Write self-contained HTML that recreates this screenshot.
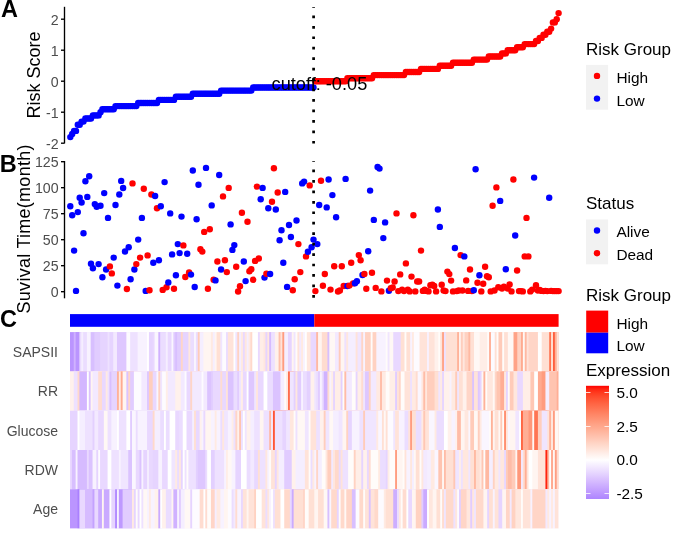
<!DOCTYPE html>
<html lang="en"><head><meta charset="utf-8"><title>Risk score figure</title>
<style>html,body{margin:0;padding:0;background:#fff}body{width:685px;height:543px;overflow:hidden}svg{display:block}</style>
</head><body>
<svg width="685" height="543" viewBox="0 0 685 543" font-family='"Liberation Sans", sans-serif'>
<rect width="685" height="543" fill="#fff"/>
<g id="pA">
<circle cx="70.3" cy="137.1" r="3.2" fill="#0000ff"/>
<circle cx="72.2" cy="134.0" r="3.2" fill="#0000ff"/>
<circle cx="74.1" cy="130.9" r="3.2" fill="#0000ff"/>
<circle cx="76.0" cy="130.9" r="3.2" fill="#0000ff"/>
<circle cx="77.8" cy="124.7" r="3.2" fill="#0000ff"/>
<circle cx="79.7" cy="124.7" r="3.2" fill="#0000ff"/>
<circle cx="81.6" cy="121.6" r="3.2" fill="#0000ff"/>
<circle cx="83.5" cy="121.6" r="3.2" fill="#0000ff"/>
<circle cx="85.4" cy="118.5" r="3.2" fill="#0000ff"/>
<circle cx="87.3" cy="118.5" r="3.2" fill="#0000ff"/>
<circle cx="89.2" cy="118.5" r="3.2" fill="#0000ff"/>
<circle cx="91.0" cy="118.5" r="3.2" fill="#0000ff"/>
<circle cx="92.9" cy="115.4" r="3.2" fill="#0000ff"/>
<circle cx="94.8" cy="115.4" r="3.2" fill="#0000ff"/>
<circle cx="96.7" cy="115.4" r="3.2" fill="#0000ff"/>
<circle cx="98.6" cy="115.4" r="3.2" fill="#0000ff"/>
<circle cx="100.5" cy="112.3" r="3.2" fill="#0000ff"/>
<circle cx="102.4" cy="109.2" r="3.2" fill="#0000ff"/>
<circle cx="104.2" cy="109.2" r="3.2" fill="#0000ff"/>
<circle cx="106.1" cy="109.2" r="3.2" fill="#0000ff"/>
<circle cx="108.0" cy="109.2" r="3.2" fill="#0000ff"/>
<circle cx="109.9" cy="109.2" r="3.2" fill="#0000ff"/>
<circle cx="111.8" cy="109.2" r="3.2" fill="#0000ff"/>
<circle cx="113.7" cy="109.2" r="3.2" fill="#0000ff"/>
<circle cx="115.5" cy="106.1" r="3.2" fill="#0000ff"/>
<circle cx="117.4" cy="106.1" r="3.2" fill="#0000ff"/>
<circle cx="119.3" cy="106.1" r="3.2" fill="#0000ff"/>
<circle cx="121.2" cy="106.1" r="3.2" fill="#0000ff"/>
<circle cx="123.1" cy="106.1" r="3.2" fill="#0000ff"/>
<circle cx="125.0" cy="106.1" r="3.2" fill="#0000ff"/>
<circle cx="126.9" cy="106.1" r="3.2" fill="#0000ff"/>
<circle cx="128.7" cy="106.1" r="3.2" fill="#0000ff"/>
<circle cx="130.6" cy="106.1" r="3.2" fill="#0000ff"/>
<circle cx="132.5" cy="106.1" r="3.2" fill="#0000ff"/>
<circle cx="134.4" cy="106.1" r="3.2" fill="#0000ff"/>
<circle cx="136.3" cy="106.1" r="3.2" fill="#0000ff"/>
<circle cx="138.2" cy="103.0" r="3.2" fill="#0000ff"/>
<circle cx="140.1" cy="103.0" r="3.2" fill="#0000ff"/>
<circle cx="141.9" cy="103.0" r="3.2" fill="#0000ff"/>
<circle cx="143.8" cy="103.0" r="3.2" fill="#0000ff"/>
<circle cx="145.7" cy="103.0" r="3.2" fill="#0000ff"/>
<circle cx="147.6" cy="103.0" r="3.2" fill="#0000ff"/>
<circle cx="149.5" cy="103.0" r="3.2" fill="#0000ff"/>
<circle cx="151.4" cy="103.0" r="3.2" fill="#0000ff"/>
<circle cx="153.3" cy="103.0" r="3.2" fill="#0000ff"/>
<circle cx="155.1" cy="103.0" r="3.2" fill="#0000ff"/>
<circle cx="157.0" cy="103.0" r="3.2" fill="#0000ff"/>
<circle cx="158.9" cy="99.9" r="3.2" fill="#0000ff"/>
<circle cx="160.8" cy="99.9" r="3.2" fill="#0000ff"/>
<circle cx="162.7" cy="99.9" r="3.2" fill="#0000ff"/>
<circle cx="164.6" cy="99.9" r="3.2" fill="#0000ff"/>
<circle cx="166.5" cy="99.9" r="3.2" fill="#0000ff"/>
<circle cx="168.3" cy="99.9" r="3.2" fill="#0000ff"/>
<circle cx="170.2" cy="99.9" r="3.2" fill="#0000ff"/>
<circle cx="172.1" cy="99.9" r="3.2" fill="#0000ff"/>
<circle cx="174.0" cy="99.9" r="3.2" fill="#0000ff"/>
<circle cx="175.9" cy="96.8" r="3.2" fill="#0000ff"/>
<circle cx="177.8" cy="96.8" r="3.2" fill="#0000ff"/>
<circle cx="179.6" cy="96.8" r="3.2" fill="#0000ff"/>
<circle cx="181.5" cy="96.8" r="3.2" fill="#0000ff"/>
<circle cx="183.4" cy="96.8" r="3.2" fill="#0000ff"/>
<circle cx="185.3" cy="96.8" r="3.2" fill="#0000ff"/>
<circle cx="187.2" cy="96.8" r="3.2" fill="#0000ff"/>
<circle cx="189.1" cy="96.8" r="3.2" fill="#0000ff"/>
<circle cx="191.0" cy="96.8" r="3.2" fill="#0000ff"/>
<circle cx="192.8" cy="93.7" r="3.2" fill="#0000ff"/>
<circle cx="194.7" cy="93.7" r="3.2" fill="#0000ff"/>
<circle cx="196.6" cy="93.7" r="3.2" fill="#0000ff"/>
<circle cx="198.5" cy="93.7" r="3.2" fill="#0000ff"/>
<circle cx="200.4" cy="93.7" r="3.2" fill="#0000ff"/>
<circle cx="202.3" cy="93.7" r="3.2" fill="#0000ff"/>
<circle cx="204.2" cy="93.7" r="3.2" fill="#0000ff"/>
<circle cx="206.0" cy="93.7" r="3.2" fill="#0000ff"/>
<circle cx="207.9" cy="93.7" r="3.2" fill="#0000ff"/>
<circle cx="209.8" cy="93.7" r="3.2" fill="#0000ff"/>
<circle cx="211.7" cy="93.7" r="3.2" fill="#0000ff"/>
<circle cx="213.6" cy="93.7" r="3.2" fill="#0000ff"/>
<circle cx="215.5" cy="93.7" r="3.2" fill="#0000ff"/>
<circle cx="217.4" cy="93.7" r="3.2" fill="#0000ff"/>
<circle cx="219.2" cy="93.7" r="3.2" fill="#0000ff"/>
<circle cx="221.1" cy="90.6" r="3.2" fill="#0000ff"/>
<circle cx="223.0" cy="90.6" r="3.2" fill="#0000ff"/>
<circle cx="224.9" cy="90.6" r="3.2" fill="#0000ff"/>
<circle cx="226.8" cy="90.6" r="3.2" fill="#0000ff"/>
<circle cx="228.7" cy="90.6" r="3.2" fill="#0000ff"/>
<circle cx="230.6" cy="90.6" r="3.2" fill="#0000ff"/>
<circle cx="232.4" cy="90.6" r="3.2" fill="#0000ff"/>
<circle cx="234.3" cy="90.6" r="3.2" fill="#0000ff"/>
<circle cx="236.2" cy="90.6" r="3.2" fill="#0000ff"/>
<circle cx="238.1" cy="90.6" r="3.2" fill="#0000ff"/>
<circle cx="240.0" cy="90.6" r="3.2" fill="#0000ff"/>
<circle cx="241.9" cy="90.6" r="3.2" fill="#0000ff"/>
<circle cx="243.8" cy="90.6" r="3.2" fill="#0000ff"/>
<circle cx="245.6" cy="90.6" r="3.2" fill="#0000ff"/>
<circle cx="247.5" cy="90.6" r="3.2" fill="#0000ff"/>
<circle cx="249.4" cy="90.6" r="3.2" fill="#0000ff"/>
<circle cx="251.3" cy="90.6" r="3.2" fill="#0000ff"/>
<circle cx="253.2" cy="87.5" r="3.2" fill="#0000ff"/>
<circle cx="255.1" cy="87.5" r="3.2" fill="#0000ff"/>
<circle cx="256.9" cy="87.5" r="3.2" fill="#0000ff"/>
<circle cx="258.8" cy="87.5" r="3.2" fill="#0000ff"/>
<circle cx="260.7" cy="87.5" r="3.2" fill="#0000ff"/>
<circle cx="262.6" cy="87.5" r="3.2" fill="#0000ff"/>
<circle cx="264.5" cy="87.5" r="3.2" fill="#0000ff"/>
<circle cx="266.4" cy="87.5" r="3.2" fill="#0000ff"/>
<circle cx="268.3" cy="87.5" r="3.2" fill="#0000ff"/>
<circle cx="270.1" cy="87.5" r="3.2" fill="#0000ff"/>
<circle cx="272.0" cy="87.5" r="3.2" fill="#0000ff"/>
<circle cx="273.9" cy="87.5" r="3.2" fill="#0000ff"/>
<circle cx="275.8" cy="87.5" r="3.2" fill="#0000ff"/>
<circle cx="277.7" cy="87.5" r="3.2" fill="#0000ff"/>
<circle cx="279.6" cy="87.5" r="3.2" fill="#0000ff"/>
<circle cx="281.5" cy="87.5" r="3.2" fill="#0000ff"/>
<circle cx="283.3" cy="87.5" r="3.2" fill="#0000ff"/>
<circle cx="285.2" cy="87.5" r="3.2" fill="#0000ff"/>
<circle cx="287.1" cy="87.5" r="3.2" fill="#0000ff"/>
<circle cx="289.0" cy="87.5" r="3.2" fill="#0000ff"/>
<circle cx="290.9" cy="87.5" r="3.2" fill="#0000ff"/>
<circle cx="292.8" cy="87.5" r="3.2" fill="#0000ff"/>
<circle cx="294.7" cy="87.5" r="3.2" fill="#0000ff"/>
<circle cx="296.5" cy="87.5" r="3.2" fill="#0000ff"/>
<circle cx="298.4" cy="87.5" r="3.2" fill="#0000ff"/>
<circle cx="300.3" cy="87.5" r="3.2" fill="#0000ff"/>
<circle cx="302.2" cy="87.5" r="3.2" fill="#0000ff"/>
<circle cx="304.1" cy="87.5" r="3.2" fill="#0000ff"/>
<circle cx="306.0" cy="87.5" r="3.2" fill="#0000ff"/>
<circle cx="307.9" cy="87.5" r="3.2" fill="#0000ff"/>
<circle cx="309.7" cy="87.5" r="3.2" fill="#0000ff"/>
<circle cx="311.6" cy="87.5" r="3.2" fill="#0000ff"/>
<circle cx="313.5" cy="87.5" r="3.2" fill="#0000ff"/>
<circle cx="315.4" cy="81.3" r="3.2" fill="#ff0000"/>
<circle cx="317.3" cy="81.3" r="3.2" fill="#ff0000"/>
<circle cx="319.2" cy="81.3" r="3.2" fill="#ff0000"/>
<circle cx="321.0" cy="81.3" r="3.2" fill="#ff0000"/>
<circle cx="322.9" cy="81.3" r="3.2" fill="#ff0000"/>
<circle cx="324.8" cy="81.3" r="3.2" fill="#ff0000"/>
<circle cx="326.7" cy="81.3" r="3.2" fill="#ff0000"/>
<circle cx="328.6" cy="81.3" r="3.2" fill="#ff0000"/>
<circle cx="330.5" cy="81.3" r="3.2" fill="#ff0000"/>
<circle cx="332.4" cy="81.3" r="3.2" fill="#ff0000"/>
<circle cx="334.2" cy="81.3" r="3.2" fill="#ff0000"/>
<circle cx="336.1" cy="81.3" r="3.2" fill="#ff0000"/>
<circle cx="338.0" cy="81.3" r="3.2" fill="#ff0000"/>
<circle cx="339.9" cy="81.3" r="3.2" fill="#ff0000"/>
<circle cx="341.8" cy="81.3" r="3.2" fill="#ff0000"/>
<circle cx="343.7" cy="81.3" r="3.2" fill="#ff0000"/>
<circle cx="345.6" cy="81.3" r="3.2" fill="#ff0000"/>
<circle cx="347.4" cy="78.2" r="3.2" fill="#ff0000"/>
<circle cx="349.3" cy="78.2" r="3.2" fill="#ff0000"/>
<circle cx="351.2" cy="78.2" r="3.2" fill="#ff0000"/>
<circle cx="353.1" cy="78.2" r="3.2" fill="#ff0000"/>
<circle cx="355.0" cy="78.2" r="3.2" fill="#ff0000"/>
<circle cx="356.9" cy="78.2" r="3.2" fill="#ff0000"/>
<circle cx="358.8" cy="78.2" r="3.2" fill="#ff0000"/>
<circle cx="360.6" cy="78.2" r="3.2" fill="#ff0000"/>
<circle cx="362.5" cy="78.2" r="3.2" fill="#ff0000"/>
<circle cx="364.4" cy="78.2" r="3.2" fill="#ff0000"/>
<circle cx="366.3" cy="78.2" r="3.2" fill="#ff0000"/>
<circle cx="368.2" cy="78.2" r="3.2" fill="#ff0000"/>
<circle cx="370.1" cy="78.2" r="3.2" fill="#ff0000"/>
<circle cx="372.0" cy="78.2" r="3.2" fill="#ff0000"/>
<circle cx="373.8" cy="75.1" r="3.2" fill="#ff0000"/>
<circle cx="375.7" cy="75.1" r="3.2" fill="#ff0000"/>
<circle cx="377.6" cy="75.1" r="3.2" fill="#ff0000"/>
<circle cx="379.5" cy="75.1" r="3.2" fill="#ff0000"/>
<circle cx="381.4" cy="75.1" r="3.2" fill="#ff0000"/>
<circle cx="383.3" cy="75.1" r="3.2" fill="#ff0000"/>
<circle cx="385.1" cy="75.1" r="3.2" fill="#ff0000"/>
<circle cx="387.0" cy="75.1" r="3.2" fill="#ff0000"/>
<circle cx="388.9" cy="75.1" r="3.2" fill="#ff0000"/>
<circle cx="390.8" cy="75.1" r="3.2" fill="#ff0000"/>
<circle cx="392.7" cy="75.1" r="3.2" fill="#ff0000"/>
<circle cx="394.6" cy="75.1" r="3.2" fill="#ff0000"/>
<circle cx="396.5" cy="75.1" r="3.2" fill="#ff0000"/>
<circle cx="398.3" cy="75.1" r="3.2" fill="#ff0000"/>
<circle cx="400.2" cy="75.1" r="3.2" fill="#ff0000"/>
<circle cx="402.1" cy="75.1" r="3.2" fill="#ff0000"/>
<circle cx="404.0" cy="75.1" r="3.2" fill="#ff0000"/>
<circle cx="405.9" cy="72.0" r="3.2" fill="#ff0000"/>
<circle cx="407.8" cy="72.0" r="3.2" fill="#ff0000"/>
<circle cx="409.7" cy="72.0" r="3.2" fill="#ff0000"/>
<circle cx="411.5" cy="72.0" r="3.2" fill="#ff0000"/>
<circle cx="413.4" cy="72.0" r="3.2" fill="#ff0000"/>
<circle cx="415.3" cy="72.0" r="3.2" fill="#ff0000"/>
<circle cx="417.2" cy="72.0" r="3.2" fill="#ff0000"/>
<circle cx="419.1" cy="72.0" r="3.2" fill="#ff0000"/>
<circle cx="421.0" cy="68.9" r="3.2" fill="#ff0000"/>
<circle cx="422.9" cy="68.9" r="3.2" fill="#ff0000"/>
<circle cx="424.7" cy="68.9" r="3.2" fill="#ff0000"/>
<circle cx="426.6" cy="68.9" r="3.2" fill="#ff0000"/>
<circle cx="428.5" cy="68.9" r="3.2" fill="#ff0000"/>
<circle cx="430.4" cy="68.9" r="3.2" fill="#ff0000"/>
<circle cx="432.3" cy="68.9" r="3.2" fill="#ff0000"/>
<circle cx="434.2" cy="68.9" r="3.2" fill="#ff0000"/>
<circle cx="436.1" cy="68.9" r="3.2" fill="#ff0000"/>
<circle cx="437.9" cy="68.9" r="3.2" fill="#ff0000"/>
<circle cx="439.8" cy="65.8" r="3.2" fill="#ff0000"/>
<circle cx="441.7" cy="65.8" r="3.2" fill="#ff0000"/>
<circle cx="443.6" cy="65.8" r="3.2" fill="#ff0000"/>
<circle cx="445.5" cy="65.8" r="3.2" fill="#ff0000"/>
<circle cx="447.4" cy="65.8" r="3.2" fill="#ff0000"/>
<circle cx="449.3" cy="65.8" r="3.2" fill="#ff0000"/>
<circle cx="451.1" cy="65.8" r="3.2" fill="#ff0000"/>
<circle cx="453.0" cy="62.7" r="3.2" fill="#ff0000"/>
<circle cx="454.9" cy="62.7" r="3.2" fill="#ff0000"/>
<circle cx="456.8" cy="62.7" r="3.2" fill="#ff0000"/>
<circle cx="458.7" cy="62.7" r="3.2" fill="#ff0000"/>
<circle cx="460.6" cy="62.7" r="3.2" fill="#ff0000"/>
<circle cx="462.4" cy="62.7" r="3.2" fill="#ff0000"/>
<circle cx="464.3" cy="62.7" r="3.2" fill="#ff0000"/>
<circle cx="466.2" cy="62.7" r="3.2" fill="#ff0000"/>
<circle cx="468.1" cy="62.7" r="3.2" fill="#ff0000"/>
<circle cx="470.0" cy="62.7" r="3.2" fill="#ff0000"/>
<circle cx="471.9" cy="62.7" r="3.2" fill="#ff0000"/>
<circle cx="473.8" cy="59.6" r="3.2" fill="#ff0000"/>
<circle cx="475.6" cy="59.6" r="3.2" fill="#ff0000"/>
<circle cx="477.5" cy="59.6" r="3.2" fill="#ff0000"/>
<circle cx="479.4" cy="59.6" r="3.2" fill="#ff0000"/>
<circle cx="481.3" cy="59.6" r="3.2" fill="#ff0000"/>
<circle cx="483.2" cy="59.6" r="3.2" fill="#ff0000"/>
<circle cx="485.1" cy="59.6" r="3.2" fill="#ff0000"/>
<circle cx="487.0" cy="59.6" r="3.2" fill="#ff0000"/>
<circle cx="488.8" cy="56.5" r="3.2" fill="#ff0000"/>
<circle cx="490.7" cy="56.5" r="3.2" fill="#ff0000"/>
<circle cx="492.6" cy="56.5" r="3.2" fill="#ff0000"/>
<circle cx="494.5" cy="56.5" r="3.2" fill="#ff0000"/>
<circle cx="496.4" cy="56.5" r="3.2" fill="#ff0000"/>
<circle cx="498.3" cy="56.5" r="3.2" fill="#ff0000"/>
<circle cx="500.2" cy="56.5" r="3.2" fill="#ff0000"/>
<circle cx="502.0" cy="53.4" r="3.2" fill="#ff0000"/>
<circle cx="503.9" cy="53.4" r="3.2" fill="#ff0000"/>
<circle cx="505.8" cy="53.4" r="3.2" fill="#ff0000"/>
<circle cx="507.7" cy="50.3" r="3.2" fill="#ff0000"/>
<circle cx="509.6" cy="50.3" r="3.2" fill="#ff0000"/>
<circle cx="511.5" cy="50.3" r="3.2" fill="#ff0000"/>
<circle cx="513.4" cy="50.3" r="3.2" fill="#ff0000"/>
<circle cx="515.2" cy="50.3" r="3.2" fill="#ff0000"/>
<circle cx="517.1" cy="47.2" r="3.2" fill="#ff0000"/>
<circle cx="519.0" cy="47.2" r="3.2" fill="#ff0000"/>
<circle cx="520.9" cy="47.2" r="3.2" fill="#ff0000"/>
<circle cx="522.8" cy="47.2" r="3.2" fill="#ff0000"/>
<circle cx="524.7" cy="44.1" r="3.2" fill="#ff0000"/>
<circle cx="526.5" cy="44.1" r="3.2" fill="#ff0000"/>
<circle cx="528.4" cy="44.1" r="3.2" fill="#ff0000"/>
<circle cx="530.3" cy="44.1" r="3.2" fill="#ff0000"/>
<circle cx="532.2" cy="44.1" r="3.2" fill="#ff0000"/>
<circle cx="534.1" cy="44.1" r="3.2" fill="#ff0000"/>
<circle cx="536.0" cy="41.0" r="3.2" fill="#ff0000"/>
<circle cx="537.9" cy="41.0" r="3.2" fill="#ff0000"/>
<circle cx="539.7" cy="37.9" r="3.2" fill="#ff0000"/>
<circle cx="541.6" cy="37.9" r="3.2" fill="#ff0000"/>
<circle cx="543.5" cy="34.8" r="3.2" fill="#ff0000"/>
<circle cx="545.4" cy="34.8" r="3.2" fill="#ff0000"/>
<circle cx="547.3" cy="31.7" r="3.2" fill="#ff0000"/>
<circle cx="549.2" cy="31.7" r="3.2" fill="#ff0000"/>
<circle cx="551.1" cy="28.6" r="3.2" fill="#ff0000"/>
<circle cx="552.9" cy="22.4" r="3.2" fill="#ff0000"/>
<circle cx="554.8" cy="22.4" r="3.2" fill="#ff0000"/>
<circle cx="556.7" cy="19.3" r="3.2" fill="#ff0000"/>
<circle cx="558.6" cy="13.1" r="3.2" fill="#ff0000"/>
<line x1="313.6" y1="143.6" x2="313.6" y2="7" stroke="#000" stroke-width="2.7" stroke-dasharray="2.7 7.75"/>
<text x="319.4" y="90.0" font-size="18.2" text-anchor="middle" fill="#000">cutoff: -0.05</text>
<path d="M64.5 6.8V143.4" stroke="#000" stroke-width="1.35" fill="none"/>
<path d="M61 19.2H64.5" stroke="#000" stroke-width="1.35"/>
<text x="58.6" y="24.5" font-size="14.2" text-anchor="end" fill="#4d4d4d">2</text>
<path d="M61 50.2H64.5" stroke="#000" stroke-width="1.35"/>
<text x="58.6" y="55.5" font-size="14.2" text-anchor="end" fill="#4d4d4d">1</text>
<path d="M61 81.2H64.5" stroke="#000" stroke-width="1.35"/>
<text x="58.6" y="86.5" font-size="14.2" text-anchor="end" fill="#4d4d4d">0</text>
<path d="M61 112.2H64.5" stroke="#000" stroke-width="1.35"/>
<text x="58.6" y="117.5" font-size="14.2" text-anchor="end" fill="#4d4d4d">-1</text>
<path d="M61 143.2H64.5" stroke="#000" stroke-width="1.35"/>
<text x="58.6" y="148.5" font-size="14.2" text-anchor="end" fill="#4d4d4d">-2</text>
<text transform="translate(39.7,75) rotate(-90)" font-size="18" text-anchor="middle" fill="#000">Risk Score</text>
</g>
<g id="pB">
<circle cx="70.3" cy="206.3" r="3.2" fill="#0000ff"/>
<circle cx="72.2" cy="215.3" r="3.2" fill="#0000ff"/>
<circle cx="74.1" cy="250.6" r="3.2" fill="#0000ff"/>
<circle cx="76.0" cy="290.9" r="3.2" fill="#0000ff"/>
<circle cx="77.8" cy="212.1" r="3.2" fill="#0000ff"/>
<circle cx="79.7" cy="197.7" r="3.2" fill="#0000ff"/>
<circle cx="81.6" cy="202.5" r="3.2" fill="#0000ff"/>
<circle cx="83.5" cy="233.2" r="3.2" fill="#0000ff"/>
<circle cx="85.4" cy="181.2" r="3.2" fill="#0000ff"/>
<circle cx="87.3" cy="196.9" r="3.2" fill="#0000ff"/>
<circle cx="89.2" cy="176.3" r="3.2" fill="#0000ff"/>
<circle cx="91.0" cy="263.8" r="3.2" fill="#0000ff"/>
<circle cx="92.9" cy="268.2" r="3.2" fill="#0000ff"/>
<circle cx="94.8" cy="204.1" r="3.2" fill="#0000ff"/>
<circle cx="96.7" cy="206.7" r="3.2" fill="#0000ff"/>
<circle cx="98.6" cy="264.1" r="3.2" fill="#0000ff"/>
<circle cx="100.5" cy="205.7" r="3.2" fill="#0000ff"/>
<circle cx="102.4" cy="277.2" r="3.2" fill="#0000ff"/>
<circle cx="104.2" cy="193.1" r="3.2" fill="#0000ff"/>
<circle cx="106.1" cy="269.5" r="3.2" fill="#0000ff"/>
<circle cx="108.0" cy="217.9" r="3.2" fill="#0000ff"/>
<circle cx="109.9" cy="266.4" r="3.2" fill="#ff0000"/>
<circle cx="111.8" cy="273.4" r="3.2" fill="#ff0000"/>
<circle cx="113.7" cy="257.6" r="3.2" fill="#0000ff"/>
<circle cx="115.5" cy="205.0" r="3.2" fill="#0000ff"/>
<circle cx="117.4" cy="285.6" r="3.2" fill="#0000ff"/>
<circle cx="119.3" cy="194.5" r="3.2" fill="#0000ff"/>
<circle cx="121.2" cy="180.9" r="3.2" fill="#0000ff"/>
<circle cx="123.1" cy="188.0" r="3.2" fill="#0000ff"/>
<circle cx="125.0" cy="251.5" r="3.2" fill="#0000ff"/>
<circle cx="126.9" cy="289.0" r="3.2" fill="#ff0000"/>
<circle cx="128.7" cy="247.3" r="3.2" fill="#0000ff"/>
<circle cx="130.6" cy="279.2" r="3.2" fill="#0000ff"/>
<circle cx="132.5" cy="183.4" r="3.2" fill="#ff0000"/>
<circle cx="134.4" cy="269.5" r="3.2" fill="#0000ff"/>
<circle cx="136.3" cy="264.1" r="3.2" fill="#ff0000"/>
<circle cx="138.2" cy="239.6" r="3.2" fill="#0000ff"/>
<circle cx="140.1" cy="257.6" r="3.2" fill="#ff0000"/>
<circle cx="141.9" cy="217.9" r="3.2" fill="#0000ff"/>
<circle cx="143.8" cy="188.7" r="3.2" fill="#ff0000"/>
<circle cx="145.7" cy="290.9" r="3.2" fill="#0000ff"/>
<circle cx="147.6" cy="255.4" r="3.2" fill="#ff0000"/>
<circle cx="149.5" cy="290.2" r="3.2" fill="#ff0000"/>
<circle cx="151.4" cy="194.5" r="3.2" fill="#ff0000"/>
<circle cx="153.3" cy="262.8" r="3.2" fill="#0000ff"/>
<circle cx="155.1" cy="196.0" r="3.2" fill="#0000ff"/>
<circle cx="157.0" cy="208.3" r="3.2" fill="#ff0000"/>
<circle cx="158.9" cy="260.2" r="3.2" fill="#0000ff"/>
<circle cx="160.8" cy="206.3" r="3.2" fill="#0000ff"/>
<circle cx="162.7" cy="289.9" r="3.2" fill="#ff0000"/>
<circle cx="164.6" cy="182.1" r="3.2" fill="#0000ff"/>
<circle cx="166.5" cy="287.3" r="3.2" fill="#ff0000"/>
<circle cx="168.3" cy="282.4" r="3.2" fill="#0000ff"/>
<circle cx="170.2" cy="213.4" r="3.2" fill="#0000ff"/>
<circle cx="172.1" cy="254.4" r="3.2" fill="#0000ff"/>
<circle cx="174.0" cy="288.8" r="3.2" fill="#ff0000"/>
<circle cx="175.9" cy="275.3" r="3.2" fill="#0000ff"/>
<circle cx="177.8" cy="244.1" r="3.2" fill="#0000ff"/>
<circle cx="179.6" cy="253.1" r="3.2" fill="#0000ff"/>
<circle cx="181.5" cy="216.6" r="3.2" fill="#0000ff"/>
<circle cx="183.4" cy="245.4" r="3.2" fill="#ff0000"/>
<circle cx="185.3" cy="277.0" r="3.2" fill="#ff0000"/>
<circle cx="187.2" cy="253.8" r="3.2" fill="#0000ff"/>
<circle cx="189.1" cy="272.5" r="3.2" fill="#ff0000"/>
<circle cx="191.0" cy="274.6" r="3.2" fill="#0000ff"/>
<circle cx="192.8" cy="170.5" r="3.2" fill="#0000ff"/>
<circle cx="194.7" cy="287.0" r="3.2" fill="#0000ff"/>
<circle cx="196.6" cy="219.2" r="3.2" fill="#0000ff"/>
<circle cx="198.5" cy="184.8" r="3.2" fill="#0000ff"/>
<circle cx="200.4" cy="249.3" r="3.2" fill="#ff0000"/>
<circle cx="202.3" cy="251.6" r="3.2" fill="#ff0000"/>
<circle cx="204.2" cy="231.9" r="3.2" fill="#ff0000"/>
<circle cx="206.0" cy="167.9" r="3.2" fill="#0000ff"/>
<circle cx="207.9" cy="288.8" r="3.2" fill="#ff0000"/>
<circle cx="209.8" cy="229.3" r="3.2" fill="#ff0000"/>
<circle cx="211.7" cy="205.4" r="3.2" fill="#0000ff"/>
<circle cx="213.6" cy="279.8" r="3.2" fill="#ff0000"/>
<circle cx="215.5" cy="280.4" r="3.2" fill="#0000ff"/>
<circle cx="217.4" cy="261.5" r="3.2" fill="#ff0000"/>
<circle cx="219.2" cy="175.0" r="3.2" fill="#0000ff"/>
<circle cx="221.1" cy="269.5" r="3.2" fill="#0000ff"/>
<circle cx="223.0" cy="196.4" r="3.2" fill="#ff0000"/>
<circle cx="224.9" cy="260.2" r="3.2" fill="#ff0000"/>
<circle cx="226.8" cy="272.1" r="3.2" fill="#ff0000"/>
<circle cx="228.7" cy="187.9" r="3.2" fill="#ff0000"/>
<circle cx="230.6" cy="224.4" r="3.2" fill="#0000ff"/>
<circle cx="232.4" cy="249.9" r="3.2" fill="#0000ff"/>
<circle cx="234.3" cy="245.1" r="3.2" fill="#0000ff"/>
<circle cx="236.2" cy="266.7" r="3.2" fill="#ff0000"/>
<circle cx="238.1" cy="291.5" r="3.2" fill="#ff0000"/>
<circle cx="240.0" cy="286.2" r="3.2" fill="#ff0000"/>
<circle cx="241.9" cy="212.8" r="3.2" fill="#ff0000"/>
<circle cx="243.8" cy="261.5" r="3.2" fill="#0000ff"/>
<circle cx="245.6" cy="281.1" r="3.2" fill="#0000ff"/>
<circle cx="247.5" cy="221.8" r="3.2" fill="#ff0000"/>
<circle cx="249.4" cy="271.2" r="3.2" fill="#ff0000"/>
<circle cx="251.3" cy="269.2" r="3.2" fill="#ff0000"/>
<circle cx="253.2" cy="279.8" r="3.2" fill="#ff0000"/>
<circle cx="255.1" cy="260.9" r="3.2" fill="#ff0000"/>
<circle cx="256.9" cy="186.6" r="3.2" fill="#ff0000"/>
<circle cx="258.8" cy="258.5" r="3.2" fill="#ff0000"/>
<circle cx="260.7" cy="199.2" r="3.2" fill="#0000ff"/>
<circle cx="262.6" cy="187.9" r="3.2" fill="#0000ff"/>
<circle cx="264.5" cy="277.6" r="3.2" fill="#0000ff"/>
<circle cx="266.4" cy="273.7" r="3.2" fill="#ff0000"/>
<circle cx="268.3" cy="208.3" r="3.2" fill="#0000ff"/>
<circle cx="270.1" cy="274.0" r="3.2" fill="#0000ff"/>
<circle cx="272.0" cy="201.8" r="3.2" fill="#ff0000"/>
<circle cx="273.9" cy="168.3" r="3.2" fill="#ff0000"/>
<circle cx="275.8" cy="209.5" r="3.2" fill="#0000ff"/>
<circle cx="277.7" cy="192.5" r="3.2" fill="#ff0000"/>
<circle cx="279.6" cy="240.2" r="3.2" fill="#0000ff"/>
<circle cx="281.5" cy="230.3" r="3.2" fill="#0000ff"/>
<circle cx="283.3" cy="262.8" r="3.2" fill="#0000ff"/>
<circle cx="285.2" cy="191.9" r="3.2" fill="#0000ff"/>
<circle cx="287.1" cy="286.9" r="3.2" fill="#0000ff"/>
<circle cx="289.0" cy="225.0" r="3.2" fill="#0000ff"/>
<circle cx="290.9" cy="237.0" r="3.2" fill="#0000ff"/>
<circle cx="292.8" cy="290.2" r="3.2" fill="#ff0000"/>
<circle cx="294.7" cy="279.2" r="3.2" fill="#ff0000"/>
<circle cx="296.5" cy="220.5" r="3.2" fill="#0000ff"/>
<circle cx="298.4" cy="244.1" r="3.2" fill="#ff0000"/>
<circle cx="300.3" cy="272.1" r="3.2" fill="#ff0000"/>
<circle cx="302.2" cy="183.4" r="3.2" fill="#0000ff"/>
<circle cx="304.1" cy="181.6" r="3.2" fill="#0000ff"/>
<circle cx="306.0" cy="256.4" r="3.2" fill="#ff0000"/>
<circle cx="307.9" cy="251.8" r="3.2" fill="#0000ff"/>
<circle cx="309.7" cy="185.4" r="3.2" fill="#ff0000"/>
<circle cx="311.6" cy="247.3" r="3.2" fill="#0000ff"/>
<circle cx="313.5" cy="239.6" r="3.2" fill="#0000ff"/>
<circle cx="315.4" cy="291.1" r="3.2" fill="#ff0000"/>
<circle cx="317.3" cy="244.1" r="3.2" fill="#0000ff"/>
<circle cx="319.2" cy="205.0" r="3.2" fill="#0000ff"/>
<circle cx="321.0" cy="180.8" r="3.2" fill="#ff0000"/>
<circle cx="322.9" cy="285.7" r="3.2" fill="#ff0000"/>
<circle cx="324.8" cy="274.0" r="3.2" fill="#ff0000"/>
<circle cx="326.7" cy="207.4" r="3.2" fill="#0000ff"/>
<circle cx="328.6" cy="179.5" r="3.2" fill="#0000ff"/>
<circle cx="330.5" cy="289.6" r="3.2" fill="#ff0000"/>
<circle cx="332.4" cy="195.1" r="3.2" fill="#0000ff"/>
<circle cx="334.2" cy="266.3" r="3.2" fill="#ff0000"/>
<circle cx="336.1" cy="217.3" r="3.2" fill="#0000ff"/>
<circle cx="338.0" cy="291.5" r="3.2" fill="#ff0000"/>
<circle cx="339.9" cy="290.5" r="3.2" fill="#ff0000"/>
<circle cx="341.8" cy="266.3" r="3.2" fill="#ff0000"/>
<circle cx="343.7" cy="286.0" r="3.2" fill="#ff0000"/>
<circle cx="345.6" cy="178.9" r="3.2" fill="#0000ff"/>
<circle cx="347.4" cy="286.0" r="3.2" fill="#0000ff"/>
<circle cx="349.3" cy="285.6" r="3.2" fill="#ff0000"/>
<circle cx="351.2" cy="262.8" r="3.2" fill="#ff0000"/>
<circle cx="353.1" cy="283.4" r="3.2" fill="#ff0000"/>
<circle cx="355.0" cy="283.2" r="3.2" fill="#0000ff"/>
<circle cx="356.9" cy="281.2" r="3.2" fill="#0000ff"/>
<circle cx="358.8" cy="255.1" r="3.2" fill="#ff0000"/>
<circle cx="360.6" cy="260.2" r="3.2" fill="#ff0000"/>
<circle cx="362.5" cy="275.0" r="3.2" fill="#0000ff"/>
<circle cx="364.4" cy="274.0" r="3.2" fill="#ff0000"/>
<circle cx="366.3" cy="288.8" r="3.2" fill="#ff0000"/>
<circle cx="368.2" cy="251.2" r="3.2" fill="#0000ff"/>
<circle cx="370.1" cy="190.6" r="3.2" fill="#0000ff"/>
<circle cx="372.0" cy="272.7" r="3.2" fill="#ff0000"/>
<circle cx="373.8" cy="219.9" r="3.2" fill="#0000ff"/>
<circle cx="375.7" cy="287.9" r="3.2" fill="#ff0000"/>
<circle cx="377.6" cy="167.0" r="3.2" fill="#0000ff"/>
<circle cx="379.5" cy="168.6" r="3.2" fill="#0000ff"/>
<circle cx="381.4" cy="291.4" r="3.2" fill="#ff0000"/>
<circle cx="383.3" cy="238.1" r="3.2" fill="#0000ff"/>
<circle cx="385.1" cy="222.4" r="3.2" fill="#0000ff"/>
<circle cx="387.0" cy="280.6" r="3.2" fill="#ff0000"/>
<circle cx="388.9" cy="290.8" r="3.2" fill="#0000ff"/>
<circle cx="390.8" cy="288.3" r="3.2" fill="#ff0000"/>
<circle cx="392.7" cy="287.5" r="3.2" fill="#ff0000"/>
<circle cx="394.6" cy="281.5" r="3.2" fill="#ff0000"/>
<circle cx="396.5" cy="213.4" r="3.2" fill="#ff0000"/>
<circle cx="398.3" cy="291.1" r="3.2" fill="#ff0000"/>
<circle cx="400.2" cy="274.4" r="3.2" fill="#ff0000"/>
<circle cx="402.1" cy="289.6" r="3.2" fill="#ff0000"/>
<circle cx="404.0" cy="291.1" r="3.2" fill="#ff0000"/>
<circle cx="405.9" cy="263.4" r="3.2" fill="#ff0000"/>
<circle cx="407.8" cy="289.6" r="3.2" fill="#ff0000"/>
<circle cx="409.7" cy="291.4" r="3.2" fill="#ff0000"/>
<circle cx="411.5" cy="276.6" r="3.2" fill="#ff0000"/>
<circle cx="413.4" cy="215.3" r="3.2" fill="#ff0000"/>
<circle cx="415.3" cy="291.4" r="3.2" fill="#ff0000"/>
<circle cx="417.2" cy="281.5" r="3.2" fill="#ff0000"/>
<circle cx="419.1" cy="281.5" r="3.2" fill="#ff0000"/>
<circle cx="421.0" cy="250.6" r="3.2" fill="#ff0000"/>
<circle cx="422.9" cy="290.9" r="3.2" fill="#ff0000"/>
<circle cx="424.7" cy="289.6" r="3.2" fill="#ff0000"/>
<circle cx="426.6" cy="290.9" r="3.2" fill="#ff0000"/>
<circle cx="428.5" cy="291.4" r="3.2" fill="#ff0000"/>
<circle cx="430.4" cy="285.3" r="3.2" fill="#ff0000"/>
<circle cx="432.3" cy="284.7" r="3.2" fill="#ff0000"/>
<circle cx="434.2" cy="286.0" r="3.2" fill="#ff0000"/>
<circle cx="436.1" cy="291.4" r="3.2" fill="#ff0000"/>
<circle cx="437.9" cy="209.5" r="3.2" fill="#0000ff"/>
<circle cx="439.8" cy="226.9" r="3.2" fill="#0000ff"/>
<circle cx="441.7" cy="284.7" r="3.2" fill="#ff0000"/>
<circle cx="443.6" cy="290.5" r="3.2" fill="#ff0000"/>
<circle cx="445.5" cy="291.1" r="3.2" fill="#ff0000"/>
<circle cx="447.4" cy="271.6" r="3.2" fill="#ff0000"/>
<circle cx="449.3" cy="274.1" r="3.2" fill="#ff0000"/>
<circle cx="451.1" cy="280.6" r="3.2" fill="#ff0000"/>
<circle cx="453.0" cy="291.4" r="3.2" fill="#ff0000"/>
<circle cx="454.9" cy="248.0" r="3.2" fill="#0000ff"/>
<circle cx="456.8" cy="291.1" r="3.2" fill="#ff0000"/>
<circle cx="458.7" cy="290.5" r="3.2" fill="#ff0000"/>
<circle cx="460.6" cy="255.1" r="3.2" fill="#ff0000"/>
<circle cx="462.4" cy="290.5" r="3.2" fill="#ff0000"/>
<circle cx="464.3" cy="256.4" r="3.2" fill="#0000ff"/>
<circle cx="466.2" cy="280.4" r="3.2" fill="#ff0000"/>
<circle cx="468.1" cy="290.9" r="3.2" fill="#ff0000"/>
<circle cx="470.0" cy="269.5" r="3.2" fill="#ff0000"/>
<circle cx="471.9" cy="291.1" r="3.2" fill="#ff0000"/>
<circle cx="473.8" cy="290.2" r="3.2" fill="#0000ff"/>
<circle cx="475.6" cy="169.2" r="3.2" fill="#0000ff"/>
<circle cx="477.5" cy="282.8" r="3.2" fill="#ff0000"/>
<circle cx="479.4" cy="275.3" r="3.2" fill="#0000ff"/>
<circle cx="481.3" cy="291.4" r="3.2" fill="#ff0000"/>
<circle cx="483.2" cy="283.8" r="3.2" fill="#ff0000"/>
<circle cx="485.1" cy="266.7" r="3.2" fill="#ff0000"/>
<circle cx="487.0" cy="276.3" r="3.2" fill="#ff0000"/>
<circle cx="488.8" cy="277.2" r="3.2" fill="#ff0000"/>
<circle cx="490.7" cy="291.4" r="3.2" fill="#ff0000"/>
<circle cx="492.6" cy="205.7" r="3.2" fill="#ff0000"/>
<circle cx="494.5" cy="290.5" r="3.2" fill="#ff0000"/>
<circle cx="496.4" cy="187.4" r="3.2" fill="#ff0000"/>
<circle cx="498.3" cy="287.3" r="3.2" fill="#ff0000"/>
<circle cx="500.2" cy="200.9" r="3.2" fill="#0000ff"/>
<circle cx="502.0" cy="288.6" r="3.2" fill="#ff0000"/>
<circle cx="503.9" cy="286.6" r="3.2" fill="#ff0000"/>
<circle cx="505.8" cy="269.2" r="3.2" fill="#0000ff"/>
<circle cx="507.7" cy="288.6" r="3.2" fill="#ff0000"/>
<circle cx="509.6" cy="284.4" r="3.2" fill="#ff0000"/>
<circle cx="511.5" cy="291.4" r="3.2" fill="#ff0000"/>
<circle cx="513.4" cy="179.5" r="3.2" fill="#ff0000"/>
<circle cx="515.2" cy="235.5" r="3.2" fill="#0000ff"/>
<circle cx="517.1" cy="270.5" r="3.2" fill="#ff0000"/>
<circle cx="519.0" cy="291.1" r="3.2" fill="#ff0000"/>
<circle cx="520.9" cy="291.1" r="3.2" fill="#ff0000"/>
<circle cx="522.8" cy="291.4" r="3.2" fill="#ff0000"/>
<circle cx="524.7" cy="256.4" r="3.2" fill="#ff0000"/>
<circle cx="526.5" cy="217.9" r="3.2" fill="#ff0000"/>
<circle cx="528.4" cy="256.4" r="3.2" fill="#ff0000"/>
<circle cx="530.3" cy="291.4" r="3.2" fill="#ff0000"/>
<circle cx="532.2" cy="289.6" r="3.2" fill="#ff0000"/>
<circle cx="534.1" cy="177.6" r="3.2" fill="#0000ff"/>
<circle cx="536.0" cy="285.3" r="3.2" fill="#ff0000"/>
<circle cx="537.9" cy="290.5" r="3.2" fill="#ff0000"/>
<circle cx="539.7" cy="289.9" r="3.2" fill="#ff0000"/>
<circle cx="541.6" cy="290.9" r="3.2" fill="#ff0000"/>
<circle cx="543.5" cy="291.1" r="3.2" fill="#ff0000"/>
<circle cx="545.4" cy="290.9" r="3.2" fill="#ff0000"/>
<circle cx="547.3" cy="291.1" r="3.2" fill="#ff0000"/>
<circle cx="549.2" cy="197.7" r="3.2" fill="#0000ff"/>
<circle cx="551.1" cy="290.9" r="3.2" fill="#ff0000"/>
<circle cx="552.9" cy="291.1" r="3.2" fill="#ff0000"/>
<circle cx="554.8" cy="291.1" r="3.2" fill="#ff0000"/>
<circle cx="556.7" cy="291.1" r="3.2" fill="#ff0000"/>
<circle cx="558.6" cy="291.1" r="3.2" fill="#ff0000"/>
<line x1="313.6" y1="297.7" x2="313.6" y2="161.0" stroke="#000" stroke-width="2.7" stroke-dasharray="2.7 7.75"/>
<path d="M64.5 161.0V298.3" stroke="#000" stroke-width="1.35" fill="none"/>
<path d="M61 161.7H64.5" stroke="#000" stroke-width="1.35"/>
<text x="58.6" y="167.0" font-size="14.2" text-anchor="end" fill="#4d4d4d">125</text>
<path d="M61 187.7H64.5" stroke="#000" stroke-width="1.35"/>
<text x="58.6" y="193.0" font-size="14.2" text-anchor="end" fill="#4d4d4d">100</text>
<path d="M61 213.7H64.5" stroke="#000" stroke-width="1.35"/>
<text x="58.6" y="219.0" font-size="14.2" text-anchor="end" fill="#4d4d4d">75</text>
<path d="M61 239.7H64.5" stroke="#000" stroke-width="1.35"/>
<text x="58.6" y="245.0" font-size="14.2" text-anchor="end" fill="#4d4d4d">50</text>
<path d="M61 265.7H64.5" stroke="#000" stroke-width="1.35"/>
<text x="58.6" y="271.0" font-size="14.2" text-anchor="end" fill="#4d4d4d">25</text>
<path d="M61 291.7H64.5" stroke="#000" stroke-width="1.35"/>
<text x="58.6" y="297.0" font-size="14.2" text-anchor="end" fill="#4d4d4d">0</text>
<text transform="translate(30.0,228.85) rotate(-90)" font-size="18" letter-spacing="0.27" text-anchor="middle" fill="#000">Suvival Time(month)</text>
</g>
<g id="pC">
<rect x="70" y="314.1" width="244.3" height="12.7" fill="#0000ff"/>
<rect x="314.3" y="314.1" width="244.3" height="12.7" fill="#ff0000"/>
<text x="58" y="356.9" font-size="14.0" text-anchor="end" fill="#4d4d4d">SAPSII</text>
<text x="58" y="396.2" font-size="14.0" text-anchor="end" fill="#4d4d4d">RR</text>
<text x="58" y="435.5" font-size="14.0" text-anchor="end" fill="#4d4d4d">Glucose</text>
<text x="58" y="474.8" font-size="14.0" text-anchor="end" fill="#4d4d4d">RDW</text>
<text x="58" y="514.0" font-size="14.0" text-anchor="end" fill="#4d4d4d">Age</text>
<defs><filter id="hb" x="0" y="0" width="1" height="1" filterUnits="objectBoundingBox"><feGaussianBlur stdDeviation="0.5 0"/></filter><clipPath id="hc"><rect x="70.0" y="332.1" width="488.6" height="196.5"/></clipPath></defs>
<g clip-path="url(#hc)"><g filter="url(#hb)"><g transform="translate(0,332.10)"><rect x="70.00" width="488.60" height="39.45" fill="#bb95ff"/><rect x="73.76" width="484.84" height="39.45" fill="#d0b2ff"/><rect x="75.64" width="482.96" height="39.45" fill="#bb95ff"/><rect x="79.40" width="479.20" height="39.45" fill="#ebddff"/><rect x="81.28" width="477.32" height="39.45" fill="#f5eeff"/><rect x="83.15" width="475.45" height="39.45" fill="#ebddff"/><rect x="86.91" width="471.69" height="39.45" fill="#f8f2ff"/><rect x="90.67" width="467.93" height="39.45" fill="#d8bfff"/><rect x="94.43" width="464.17" height="39.45" fill="#e1ccff"/><rect x="100.07" width="458.53" height="39.45" fill="#e6d4ff"/><rect x="107.58" width="451.02" height="39.45" fill="#eee1ff"/><rect x="109.46" width="449.14" height="39.45" fill="#e6d4ff"/><rect x="113.22" width="445.38" height="39.45" fill="#f3e9ff"/><rect x="116.98" width="441.62" height="39.45" fill="#dec7ff"/><rect x="126.38" width="432.22" height="39.45" fill="#fdfbff"/><rect x="130.14" width="428.46" height="39.45" fill="#eee1ff"/><rect x="137.65" width="420.95" height="39.45" fill="#f8f2ff"/><rect x="147.05" width="411.55" height="39.45" fill="#ffffff"/><rect x="148.93" width="409.67" height="39.45" fill="#e6d4ff"/><rect x="152.69" width="405.91" height="39.45" fill="#e9d8ff"/><rect x="154.57" width="404.03" height="39.45" fill="#faf6ff"/><rect x="158.32" width="400.28" height="39.45" fill="#d0b2ff"/><rect x="160.20" width="398.40" height="39.45" fill="#ebddff"/><rect x="165.84" width="392.76" height="39.45" fill="#f5eeff"/><rect x="167.72" width="390.88" height="39.45" fill="#e9d8ff"/><rect x="171.48" width="387.12" height="39.45" fill="#faf6ff"/><rect x="173.36" width="385.24" height="39.45" fill="#e1ccff"/><rect x="175.24" width="383.36" height="39.45" fill="#d8bfff"/><rect x="177.12" width="381.48" height="39.45" fill="#e1ccff"/><rect x="180.87" width="377.73" height="39.45" fill="#ffd5c7"/><rect x="182.75" width="375.85" height="39.45" fill="#e6d4ff"/><rect x="188.39" width="370.21" height="39.45" fill="#ffe7de"/><rect x="190.27" width="368.33" height="39.45" fill="#ebddff"/><rect x="194.03" width="364.57" height="39.45" fill="#faf6ff"/><rect x="195.91" width="362.69" height="39.45" fill="#ebddff"/><rect x="197.79" width="360.81" height="39.45" fill="#ffcbb9"/><rect x="199.67" width="358.93" height="39.45" fill="#f5eeff"/><rect x="203.43" width="355.17" height="39.45" fill="#fff5f1"/><rect x="210.94" width="347.66" height="39.45" fill="#ffeae2"/><rect x="212.82" width="345.78" height="39.45" fill="#f5eeff"/><rect x="214.70" width="343.90" height="39.45" fill="#fff5f1"/><rect x="216.58" width="342.02" height="39.45" fill="#ffe0d4"/><rect x="220.34" width="338.26" height="39.45" fill="#f0e5ff"/><rect x="222.22" width="336.38" height="39.45" fill="#fdfbff"/><rect x="225.98" width="332.62" height="39.45" fill="#ebddff"/><rect x="227.86" width="330.74" height="39.45" fill="#ffe3d9"/><rect x="233.49" width="325.11" height="39.45" fill="#ffffff"/><rect x="235.37" width="323.23" height="39.45" fill="#f0e5ff"/><rect x="237.25" width="321.35" height="39.45" fill="#ffd2c2"/><rect x="239.13" width="319.47" height="39.45" fill="#f5eeff"/><rect x="241.01" width="317.59" height="39.45" fill="#ffeae2"/><rect x="242.89" width="315.71" height="39.45" fill="#e9d8ff"/><rect x="244.77" width="313.83" height="39.45" fill="#ffe7de"/><rect x="246.65" width="311.95" height="39.45" fill="#f5eeff"/><rect x="248.53" width="310.07" height="39.45" fill="#ffeae2"/><rect x="250.41" width="308.19" height="39.45" fill="#ffd9cb"/><rect x="252.29" width="306.31" height="39.45" fill="#ffffff"/><rect x="257.92" width="300.68" height="39.45" fill="#e9d8ff"/><rect x="259.80" width="298.80" height="39.45" fill="#ffeee7"/><rect x="263.56" width="295.04" height="39.45" fill="#ffe7de"/><rect x="265.44" width="293.16" height="39.45" fill="#e6d4ff"/><rect x="267.32" width="291.28" height="39.45" fill="#ffe7de"/><rect x="269.20" width="289.40" height="39.45" fill="#d6bbff"/><rect x="271.08" width="287.52" height="39.45" fill="#eee1ff"/><rect x="274.84" width="283.76" height="39.45" fill="#fff1ec"/><rect x="278.59" width="280.01" height="39.45" fill="#ffc0ab"/><rect x="280.47" width="278.13" height="39.45" fill="#ffe3d9"/><rect x="282.35" width="276.25" height="39.45" fill="#ff9c7f"/><rect x="284.23" width="274.37" height="39.45" fill="#f5eeff"/><rect x="287.99" width="270.61" height="39.45" fill="#e6d4ff"/><rect x="291.75" width="266.85" height="39.45" fill="#fff5f1"/><rect x="293.63" width="264.97" height="39.45" fill="#f0e5ff"/><rect x="295.51" width="263.09" height="39.45" fill="#fffcfa"/><rect x="297.39" width="261.21" height="39.45" fill="#ffe3d9"/><rect x="299.27" width="259.33" height="39.45" fill="#f3e9ff"/><rect x="301.15" width="257.45" height="39.45" fill="#ffeae2"/><rect x="303.02" width="255.58" height="39.45" fill="#f8f2ff"/><rect x="304.90" width="253.70" height="39.45" fill="#ffffff"/><rect x="306.78" width="251.82" height="39.45" fill="#ffe7de"/><rect x="310.54" width="248.06" height="39.45" fill="#e9d8ff"/><rect x="316.18" width="242.42" height="39.45" fill="#ffb9a2"/><rect x="318.06" width="240.54" height="39.45" fill="#fff5f1"/><rect x="321.82" width="236.78" height="39.45" fill="#ffdcd0"/><rect x="327.45" width="231.15" height="39.45" fill="#d8bfff"/><rect x="329.33" width="229.27" height="39.45" fill="#fff8f5"/><rect x="334.97" width="223.63" height="39.45" fill="#f3e9ff"/><rect x="338.73" width="219.87" height="39.45" fill="#ffcbb9"/><rect x="340.61" width="217.99" height="39.45" fill="#fff5f1"/><rect x="344.37" width="214.23" height="39.45" fill="#eee1ff"/><rect x="346.25" width="212.35" height="39.45" fill="#ffe7de"/><rect x="348.13" width="210.47" height="39.45" fill="#f5eeff"/><rect x="355.64" width="202.96" height="39.45" fill="#ffe3d9"/><rect x="357.52" width="201.08" height="39.45" fill="#f0e5ff"/><rect x="361.28" width="197.32" height="39.45" fill="#ffd5c7"/><rect x="363.16" width="195.44" height="39.45" fill="#f8f2ff"/><rect x="365.04" width="193.56" height="39.45" fill="#ffd2c2"/><rect x="370.68" width="187.92" height="39.45" fill="#fffcfa"/><rect x="372.56" width="186.04" height="39.45" fill="#ffd2c2"/><rect x="376.31" width="182.29" height="39.45" fill="#f8f2ff"/><rect x="385.71" width="172.89" height="39.45" fill="#fffcfa"/><rect x="387.59" width="171.01" height="39.45" fill="#f0e5ff"/><rect x="389.47" width="169.13" height="39.45" fill="#fff8f5"/><rect x="393.23" width="165.37" height="39.45" fill="#e9d8ff"/><rect x="400.74" width="157.86" height="39.45" fill="#ffe0d4"/><rect x="404.50" width="154.10" height="39.45" fill="#fffcfa"/><rect x="406.38" width="152.22" height="39.45" fill="#ffe0d4"/><rect x="410.14" width="148.46" height="39.45" fill="#f8f2ff"/><rect x="412.02" width="146.58" height="39.45" fill="#ffeae2"/><rect x="413.90" width="144.70" height="39.45" fill="#fdfbff"/><rect x="419.54" width="139.06" height="39.45" fill="#ffe3d9"/><rect x="427.05" width="131.55" height="39.45" fill="#f8f2ff"/><rect x="428.93" width="129.67" height="39.45" fill="#ffe3d9"/><rect x="434.57" width="124.03" height="39.45" fill="#fff1ec"/><rect x="438.33" width="120.27" height="39.45" fill="#fffcfa"/><rect x="440.21" width="118.39" height="39.45" fill="#ffe3d9"/><rect x="442.09" width="116.51" height="39.45" fill="#ffa387"/><rect x="443.97" width="114.63" height="39.45" fill="#eee1ff"/><rect x="445.85" width="112.75" height="39.45" fill="#ffe0d4"/><rect x="457.12" width="101.48" height="39.45" fill="#ffb299"/><rect x="459.00" width="99.60" height="39.45" fill="#fff1ec"/><rect x="460.88" width="97.72" height="39.45" fill="#ffcebd"/><rect x="462.76" width="95.84" height="39.45" fill="#ffe7de"/><rect x="464.64" width="93.96" height="39.45" fill="#ffd2c2"/><rect x="468.40" width="90.20" height="39.45" fill="#ffb9a2"/><rect x="470.28" width="88.32" height="39.45" fill="#ffe0d4"/><rect x="474.03" width="84.57" height="39.45" fill="#fff8f5"/><rect x="479.67" width="78.93" height="39.45" fill="#ffeee7"/><rect x="487.19" width="71.41" height="39.45" fill="#fffcfa"/><rect x="489.07" width="69.53" height="39.45" fill="#ffae95"/><rect x="490.95" width="67.65" height="39.45" fill="#fdfbff"/><rect x="494.71" width="63.89" height="39.45" fill="#ffe0d4"/><rect x="496.59" width="62.01" height="39.45" fill="#fffcfa"/><rect x="498.46" width="60.14" height="39.45" fill="#ffcbb9"/><rect x="502.22" width="56.38" height="39.45" fill="#fffcfa"/><rect x="504.10" width="54.50" height="39.45" fill="#ffe0d4"/><rect x="507.86" width="50.74" height="39.45" fill="#fff8f5"/><rect x="513.50" width="45.10" height="39.45" fill="#ffa387"/><rect x="517.26" width="41.34" height="39.45" fill="#ffd2c2"/><rect x="521.02" width="37.58" height="39.45" fill="#ffaa90"/><rect x="522.89" width="35.71" height="39.45" fill="#fff8f5"/><rect x="524.77" width="33.83" height="39.45" fill="#ffb9a2"/><rect x="526.65" width="31.95" height="39.45" fill="#ffe3d9"/><rect x="528.53" width="30.07" height="39.45" fill="#ffd5c7"/><rect x="537.93" width="20.67" height="39.45" fill="#ffffff"/><rect x="541.69" width="16.91" height="39.45" fill="#ffe0d4"/><rect x="549.20" width="9.40" height="39.45" fill="#ff7553"/><rect x="551.08" width="7.52" height="39.45" fill="#ffe3d9"/><rect x="552.96" width="5.64" height="39.45" fill="#ff5f3e"/><rect x="554.84" width="3.76" height="39.45" fill="#ffb299"/><rect x="556.72" width="1.88" height="39.45" fill="#ffe3d9"/></g><g transform="translate(0,371.40)"><rect x="70.00" width="488.60" height="39.45" fill="#fff1ec"/><rect x="73.76" width="484.84" height="39.45" fill="#eee1ff"/><rect x="77.52" width="481.08" height="39.45" fill="#ffd9cb"/><rect x="79.40" width="479.20" height="39.45" fill="#d3b7ff"/><rect x="86.91" width="471.69" height="39.45" fill="#ffffff"/><rect x="88.79" width="469.81" height="39.45" fill="#dbc3ff"/><rect x="90.67" width="467.93" height="39.45" fill="#fff5f1"/><rect x="92.55" width="466.05" height="39.45" fill="#f3e9ff"/><rect x="98.19" width="460.41" height="39.45" fill="#ffdcd0"/><rect x="101.95" width="456.65" height="39.45" fill="#e9d8ff"/><rect x="105.71" width="452.89" height="39.45" fill="#ffeae2"/><rect x="107.58" width="451.02" height="39.45" fill="#eee1ff"/><rect x="109.46" width="449.14" height="39.45" fill="#d8bfff"/><rect x="111.34" width="447.26" height="39.45" fill="#e6d4ff"/><rect x="116.98" width="441.62" height="39.45" fill="#ffb299"/><rect x="118.86" width="439.74" height="39.45" fill="#ffeae2"/><rect x="120.74" width="437.86" height="39.45" fill="#ffaa90"/><rect x="122.62" width="435.98" height="39.45" fill="#fff5f1"/><rect x="126.38" width="432.22" height="39.45" fill="#dbc3ff"/><rect x="128.26" width="430.34" height="39.45" fill="#ffd5c7"/><rect x="130.14" width="428.46" height="39.45" fill="#e1ccff"/><rect x="133.89" width="424.71" height="39.45" fill="#fdfbff"/><rect x="141.41" width="417.19" height="39.45" fill="#f3e9ff"/><rect x="147.05" width="411.55" height="39.45" fill="#dec7ff"/><rect x="148.93" width="409.67" height="39.45" fill="#ffcebd"/><rect x="152.69" width="405.91" height="39.45" fill="#e9d8ff"/><rect x="156.44" width="402.16" height="39.45" fill="#faf6ff"/><rect x="158.32" width="400.28" height="39.45" fill="#ffd2c2"/><rect x="160.20" width="398.40" height="39.45" fill="#f0e5ff"/><rect x="162.08" width="396.52" height="39.45" fill="#fdfbff"/><rect x="165.84" width="392.76" height="39.45" fill="#ffeee7"/><rect x="167.72" width="390.88" height="39.45" fill="#f3e9ff"/><rect x="175.24" width="383.36" height="39.45" fill="#fff1ec"/><rect x="180.87" width="377.73" height="39.45" fill="#f3e9ff"/><rect x="184.63" width="373.97" height="39.45" fill="#fdfbff"/><rect x="186.51" width="372.09" height="39.45" fill="#e9d8ff"/><rect x="190.27" width="368.33" height="39.45" fill="#ffd5c7"/><rect x="192.15" width="366.45" height="39.45" fill="#f3e9ff"/><rect x="201.55" width="357.05" height="39.45" fill="#fdfbff"/><rect x="203.43" width="355.17" height="39.45" fill="#f3e9ff"/><rect x="207.18" width="351.42" height="39.45" fill="#dbc3ff"/><rect x="210.94" width="347.66" height="39.45" fill="#e1ccff"/><rect x="212.82" width="345.78" height="39.45" fill="#e9d8ff"/><rect x="220.34" width="338.26" height="39.45" fill="#ffdcd0"/><rect x="222.22" width="336.38" height="39.45" fill="#e9d8ff"/><rect x="225.98" width="332.62" height="39.45" fill="#ffe3d9"/><rect x="227.86" width="330.74" height="39.45" fill="#dbc3ff"/><rect x="233.49" width="325.11" height="39.45" fill="#ebddff"/><rect x="237.25" width="321.35" height="39.45" fill="#e1ccff"/><rect x="239.13" width="319.47" height="39.45" fill="#f0e5ff"/><rect x="241.01" width="317.59" height="39.45" fill="#ffeee7"/><rect x="242.89" width="315.71" height="39.45" fill="#e9d8ff"/><rect x="246.65" width="311.95" height="39.45" fill="#ffffff"/><rect x="248.53" width="310.07" height="39.45" fill="#dec7ff"/><rect x="254.16" width="304.44" height="39.45" fill="#f0e5ff"/><rect x="256.04" width="302.56" height="39.45" fill="#ffe7de"/><rect x="257.92" width="300.68" height="39.45" fill="#e9d8ff"/><rect x="263.56" width="295.04" height="39.45" fill="#ffffff"/><rect x="267.32" width="291.28" height="39.45" fill="#ebddff"/><rect x="272.96" width="285.64" height="39.45" fill="#dbc3ff"/><rect x="280.47" width="278.13" height="39.45" fill="#f5eeff"/><rect x="284.23" width="274.37" height="39.45" fill="#fffcfa"/><rect x="286.11" width="272.49" height="39.45" fill="#ffeae2"/><rect x="287.99" width="270.61" height="39.45" fill="#ff6c4b"/><rect x="289.87" width="268.73" height="39.45" fill="#f0e5ff"/><rect x="293.63" width="264.97" height="39.45" fill="#e3d0ff"/><rect x="295.51" width="263.09" height="39.45" fill="#ffe7de"/><rect x="297.39" width="261.21" height="39.45" fill="#e1ccff"/><rect x="301.15" width="257.45" height="39.45" fill="#f8f2ff"/><rect x="303.02" width="255.58" height="39.45" fill="#ebddff"/><rect x="306.78" width="251.82" height="39.45" fill="#e3d0ff"/><rect x="310.54" width="248.06" height="39.45" fill="#fff1ec"/><rect x="314.30" width="244.30" height="39.45" fill="#f0e5ff"/><rect x="316.18" width="242.42" height="39.45" fill="#ebddff"/><rect x="318.06" width="240.54" height="39.45" fill="#e1ccff"/><rect x="319.94" width="238.66" height="39.45" fill="#f8f2ff"/><rect x="321.82" width="236.78" height="39.45" fill="#ebddff"/><rect x="323.70" width="234.90" height="39.45" fill="#d0b2ff"/><rect x="327.45" width="231.15" height="39.45" fill="#ffdcd0"/><rect x="329.33" width="229.27" height="39.45" fill="#f8f2ff"/><rect x="331.21" width="227.39" height="39.45" fill="#ffeee7"/><rect x="333.09" width="225.51" height="39.45" fill="#e6d4ff"/><rect x="334.97" width="223.63" height="39.45" fill="#ffeee7"/><rect x="340.61" width="217.99" height="39.45" fill="#e3d0ff"/><rect x="342.49" width="216.11" height="39.45" fill="#fffcfa"/><rect x="344.37" width="214.23" height="39.45" fill="#ffbca7"/><rect x="346.25" width="212.35" height="39.45" fill="#f3e9ff"/><rect x="351.88" width="206.72" height="39.45" fill="#fffcfa"/><rect x="355.64" width="202.96" height="39.45" fill="#e6d4ff"/><rect x="357.52" width="201.08" height="39.45" fill="#ffeee7"/><rect x="361.28" width="197.32" height="39.45" fill="#ffdcd0"/><rect x="363.16" width="195.44" height="39.45" fill="#f0e5ff"/><rect x="365.04" width="193.56" height="39.45" fill="#dec7ff"/><rect x="368.80" width="189.80" height="39.45" fill="#ffd2c2"/><rect x="370.68" width="187.92" height="39.45" fill="#f3e9ff"/><rect x="376.31" width="182.29" height="39.45" fill="#ffeae2"/><rect x="380.07" width="178.53" height="39.45" fill="#ffbca7"/><rect x="381.95" width="176.65" height="39.45" fill="#ffeae2"/><rect x="385.71" width="172.89" height="39.45" fill="#fffcfa"/><rect x="389.47" width="169.13" height="39.45" fill="#ffeee7"/><rect x="395.11" width="163.49" height="39.45" fill="#e1ccff"/><rect x="396.99" width="161.61" height="39.45" fill="#ffe3d9"/><rect x="398.87" width="159.73" height="39.45" fill="#ffd5c7"/><rect x="400.74" width="157.86" height="39.45" fill="#fffcfa"/><rect x="404.50" width="154.10" height="39.45" fill="#ffe3d9"/><rect x="410.14" width="148.46" height="39.45" fill="#eee1ff"/><rect x="412.02" width="146.58" height="39.45" fill="#ffeae2"/><rect x="415.78" width="142.82" height="39.45" fill="#ffdcd0"/><rect x="417.66" width="140.94" height="39.45" fill="#faf6ff"/><rect x="421.42" width="137.18" height="39.45" fill="#ffe7de"/><rect x="423.30" width="135.30" height="39.45" fill="#ffbca7"/><rect x="425.17" width="133.43" height="39.45" fill="#ffe7de"/><rect x="427.05" width="131.55" height="39.45" fill="#ffcebd"/><rect x="434.57" width="124.03" height="39.45" fill="#ffe0d4"/><rect x="438.33" width="120.27" height="39.45" fill="#f0e5ff"/><rect x="440.21" width="118.39" height="39.45" fill="#ffeae2"/><rect x="442.09" width="116.51" height="39.45" fill="#e6d4ff"/><rect x="443.97" width="114.63" height="39.45" fill="#fff1ec"/><rect x="449.60" width="109.00" height="39.45" fill="#f8f2ff"/><rect x="451.48" width="107.12" height="39.45" fill="#ffeae2"/><rect x="455.24" width="103.36" height="39.45" fill="#ffcbb9"/><rect x="457.12" width="101.48" height="39.45" fill="#f0e5ff"/><rect x="459.00" width="99.60" height="39.45" fill="#ffe0d4"/><rect x="462.76" width="95.84" height="39.45" fill="#fff1ec"/><rect x="466.52" width="92.08" height="39.45" fill="#ffd5c7"/><rect x="472.16" width="86.44" height="39.45" fill="#dbc3ff"/><rect x="474.03" width="84.57" height="39.45" fill="#ffe3d9"/><rect x="477.79" width="80.81" height="39.45" fill="#dec7ff"/><rect x="479.67" width="78.93" height="39.45" fill="#e6d4ff"/><rect x="481.55" width="77.05" height="39.45" fill="#fff8f5"/><rect x="483.43" width="75.17" height="39.45" fill="#ffb299"/><rect x="485.31" width="73.29" height="39.45" fill="#fffcfa"/><rect x="487.19" width="71.41" height="39.45" fill="#ffe7de"/><rect x="492.83" width="65.77" height="39.45" fill="#fff8f5"/><rect x="494.71" width="63.89" height="39.45" fill="#ffd5c7"/><rect x="496.59" width="62.01" height="39.45" fill="#ffc4b0"/><rect x="500.34" width="58.26" height="39.45" fill="#ffae95"/><rect x="504.10" width="54.50" height="39.45" fill="#ffeae2"/><rect x="505.98" width="52.62" height="39.45" fill="#e6d4ff"/><rect x="507.86" width="50.74" height="39.45" fill="#fffcfa"/><rect x="509.74" width="48.86" height="39.45" fill="#ffcbb9"/><rect x="513.50" width="45.10" height="39.45" fill="#ffe7de"/><rect x="517.26" width="41.34" height="39.45" fill="#e9d8ff"/><rect x="522.89" width="35.71" height="39.45" fill="#ffeee7"/><rect x="530.41" width="28.19" height="39.45" fill="#ffc7b4"/><rect x="534.17" width="24.43" height="39.45" fill="#ffffff"/><rect x="537.93" width="20.67" height="39.45" fill="#ffaa90"/><rect x="541.69" width="16.91" height="39.45" fill="#ff9c7f"/><rect x="545.45" width="13.15" height="39.45" fill="#f5eeff"/><rect x="549.20" width="9.40" height="39.45" fill="#ffc4b0"/><rect x="556.72" width="1.88" height="39.45" fill="#ffae95"/></g><g transform="translate(0,410.70)"><rect x="70.00" width="488.60" height="39.45" fill="#e6d4ff"/><rect x="77.52" width="481.08" height="39.45" fill="#ffffff"/><rect x="79.40" width="479.20" height="39.45" fill="#f5eeff"/><rect x="85.03" width="473.57" height="39.45" fill="#eee1ff"/><rect x="92.55" width="466.05" height="39.45" fill="#e3d0ff"/><rect x="94.43" width="464.17" height="39.45" fill="#f3e9ff"/><rect x="98.19" width="460.41" height="39.45" fill="#e9d8ff"/><rect x="103.83" width="454.77" height="39.45" fill="#fff8f5"/><rect x="107.58" width="451.02" height="39.45" fill="#eee1ff"/><rect x="111.34" width="447.26" height="39.45" fill="#f8f2ff"/><rect x="116.98" width="441.62" height="39.45" fill="#ffffff"/><rect x="118.86" width="439.74" height="39.45" fill="#eee1ff"/><rect x="126.38" width="432.22" height="39.45" fill="#ffffff"/><rect x="130.14" width="428.46" height="39.45" fill="#e1ccff"/><rect x="132.01" width="426.59" height="39.45" fill="#faf6ff"/><rect x="135.77" width="422.83" height="39.45" fill="#ebddff"/><rect x="137.65" width="420.95" height="39.45" fill="#f8f2ff"/><rect x="147.05" width="411.55" height="39.45" fill="#e9d8ff"/><rect x="152.69" width="405.91" height="39.45" fill="#ffd9cb"/><rect x="154.57" width="404.03" height="39.45" fill="#f5eeff"/><rect x="160.20" width="398.40" height="39.45" fill="#ebddff"/><rect x="163.96" width="394.64" height="39.45" fill="#ffffff"/><rect x="165.84" width="392.76" height="39.45" fill="#ebddff"/><rect x="169.60" width="389.00" height="39.45" fill="#ffffff"/><rect x="175.24" width="383.36" height="39.45" fill="#e9d8ff"/><rect x="179.00" width="379.60" height="39.45" fill="#ebddff"/><rect x="182.75" width="375.85" height="39.45" fill="#ffffff"/><rect x="186.51" width="372.09" height="39.45" fill="#e9d8ff"/><rect x="192.15" width="366.45" height="39.45" fill="#f5eeff"/><rect x="194.03" width="364.57" height="39.45" fill="#ffe0d4"/><rect x="195.91" width="362.69" height="39.45" fill="#e9d8ff"/><rect x="199.67" width="358.93" height="39.45" fill="#fff1ec"/><rect x="201.55" width="357.05" height="39.45" fill="#f8f2ff"/><rect x="203.43" width="355.17" height="39.45" fill="#e9d8ff"/><rect x="205.30" width="353.30" height="39.45" fill="#fff5f1"/><rect x="210.94" width="347.66" height="39.45" fill="#f8f2ff"/><rect x="214.70" width="343.90" height="39.45" fill="#ffeae2"/><rect x="216.58" width="342.02" height="39.45" fill="#f8f2ff"/><rect x="220.34" width="338.26" height="39.45" fill="#ebddff"/><rect x="222.22" width="336.38" height="39.45" fill="#ffe7de"/><rect x="224.10" width="334.50" height="39.45" fill="#f0e5ff"/><rect x="227.86" width="330.74" height="39.45" fill="#f8f2ff"/><rect x="231.61" width="326.99" height="39.45" fill="#ffeee7"/><rect x="233.49" width="325.11" height="39.45" fill="#eee1ff"/><rect x="235.37" width="323.23" height="39.45" fill="#ffd5c7"/><rect x="237.25" width="321.35" height="39.45" fill="#fff1ec"/><rect x="239.13" width="319.47" height="39.45" fill="#ffc4b0"/><rect x="241.01" width="317.59" height="39.45" fill="#eee1ff"/><rect x="242.89" width="315.71" height="39.45" fill="#ffffff"/><rect x="244.77" width="313.83" height="39.45" fill="#f0e5ff"/><rect x="246.65" width="311.95" height="39.45" fill="#fff1ec"/><rect x="250.41" width="308.19" height="39.45" fill="#f5eeff"/><rect x="254.16" width="304.44" height="39.45" fill="#eee1ff"/><rect x="259.80" width="298.80" height="39.45" fill="#fff5f1"/><rect x="263.56" width="295.04" height="39.45" fill="#eee1ff"/><rect x="269.20" width="289.40" height="39.45" fill="#ffb9a2"/><rect x="271.08" width="287.52" height="39.45" fill="#f3e9ff"/><rect x="272.96" width="285.64" height="39.45" fill="#ff5535"/><rect x="274.84" width="283.76" height="39.45" fill="#eee1ff"/><rect x="282.35" width="276.25" height="39.45" fill="#e6d4ff"/><rect x="286.11" width="272.49" height="39.45" fill="#f0e5ff"/><rect x="289.87" width="268.73" height="39.45" fill="#ffe7de"/><rect x="293.63" width="264.97" height="39.45" fill="#fffcfa"/><rect x="295.51" width="263.09" height="39.45" fill="#eee1ff"/><rect x="297.39" width="261.21" height="39.45" fill="#fff8f5"/><rect x="304.90" width="253.70" height="39.45" fill="#f0e5ff"/><rect x="308.66" width="249.94" height="39.45" fill="#fffcfa"/><rect x="310.54" width="248.06" height="39.45" fill="#ffe3d9"/><rect x="316.18" width="242.42" height="39.45" fill="#eee1ff"/><rect x="319.94" width="238.66" height="39.45" fill="#fff1ec"/><rect x="323.70" width="234.90" height="39.45" fill="#ffcebd"/><rect x="325.58" width="233.02" height="39.45" fill="#f0e5ff"/><rect x="329.33" width="229.27" height="39.45" fill="#fff8f5"/><rect x="333.09" width="225.51" height="39.45" fill="#f5eeff"/><rect x="338.73" width="219.87" height="39.45" fill="#f0e5ff"/><rect x="342.49" width="216.11" height="39.45" fill="#fff5f1"/><rect x="346.25" width="212.35" height="39.45" fill="#ffd2c2"/><rect x="348.13" width="210.47" height="39.45" fill="#e6d4ff"/><rect x="351.88" width="206.72" height="39.45" fill="#f8f2ff"/><rect x="359.40" width="199.20" height="39.45" fill="#eee1ff"/><rect x="363.16" width="195.44" height="39.45" fill="#ffcbb9"/><rect x="365.04" width="193.56" height="39.45" fill="#f0e5ff"/><rect x="376.31" width="182.29" height="39.45" fill="#ffeae2"/><rect x="378.19" width="180.41" height="39.45" fill="#faf6ff"/><rect x="381.95" width="176.65" height="39.45" fill="#ffe0d4"/><rect x="383.83" width="174.77" height="39.45" fill="#fff8f5"/><rect x="385.71" width="172.89" height="39.45" fill="#ffe0d4"/><rect x="387.59" width="171.01" height="39.45" fill="#fdfbff"/><rect x="393.23" width="165.37" height="39.45" fill="#f0e5ff"/><rect x="395.11" width="163.49" height="39.45" fill="#ffe3d9"/><rect x="398.87" width="159.73" height="39.45" fill="#f8f2ff"/><rect x="404.50" width="154.10" height="39.45" fill="#ebddff"/><rect x="408.26" width="150.34" height="39.45" fill="#ffe3d9"/><rect x="410.14" width="148.46" height="39.45" fill="#ff9c7f"/><rect x="412.02" width="146.58" height="39.45" fill="#ffe0d4"/><rect x="415.78" width="142.82" height="39.45" fill="#ebddff"/><rect x="421.42" width="137.18" height="39.45" fill="#ffeae2"/><rect x="423.30" width="135.30" height="39.45" fill="#ffc7b4"/><rect x="425.17" width="133.43" height="39.45" fill="#ffe3d9"/><rect x="428.93" width="129.67" height="39.45" fill="#faf6ff"/><rect x="434.57" width="124.03" height="39.45" fill="#ffeae2"/><rect x="436.45" width="122.15" height="39.45" fill="#ebddff"/><rect x="443.97" width="114.63" height="39.45" fill="#ffffff"/><rect x="447.73" width="110.87" height="39.45" fill="#fff1ec"/><rect x="451.48" width="107.12" height="39.45" fill="#f8f2ff"/><rect x="455.24" width="103.36" height="39.45" fill="#fff1ec"/><rect x="457.12" width="101.48" height="39.45" fill="#ffbca7"/><rect x="460.88" width="97.72" height="39.45" fill="#fff5f1"/><rect x="464.64" width="93.96" height="39.45" fill="#ffe7de"/><rect x="468.40" width="90.20" height="39.45" fill="#faf6ff"/><rect x="470.28" width="88.32" height="39.45" fill="#ffcbb9"/><rect x="474.03" width="84.57" height="39.45" fill="#fff8f5"/><rect x="477.79" width="80.81" height="39.45" fill="#ffcebd"/><rect x="479.67" width="78.93" height="39.45" fill="#ffeae2"/><rect x="481.55" width="77.05" height="39.45" fill="#faf6ff"/><rect x="489.07" width="69.53" height="39.45" fill="#fffcfa"/><rect x="490.95" width="67.65" height="39.45" fill="#ffb299"/><rect x="492.83" width="65.77" height="39.45" fill="#fff5f1"/><rect x="494.71" width="63.89" height="39.45" fill="#ffe0d4"/><rect x="498.46" width="60.14" height="39.45" fill="#fff8f5"/><rect x="500.34" width="58.26" height="39.45" fill="#ffcbb9"/><rect x="502.22" width="56.38" height="39.45" fill="#fffcfa"/><rect x="504.10" width="54.50" height="39.45" fill="#ff8d6d"/><rect x="505.98" width="52.62" height="39.45" fill="#ffe7de"/><rect x="507.86" width="50.74" height="39.45" fill="#faf6ff"/><rect x="509.74" width="48.86" height="39.45" fill="#fff5f1"/><rect x="515.38" width="43.22" height="39.45" fill="#f0e5ff"/><rect x="519.14" width="39.46" height="39.45" fill="#ffffff"/><rect x="521.02" width="37.58" height="39.45" fill="#ff6442"/><rect x="522.89" width="35.71" height="39.45" fill="#ffae95"/><rect x="528.53" width="30.07" height="39.45" fill="#ff987a"/><rect x="532.29" width="26.31" height="39.45" fill="#fff8f5"/><rect x="534.17" width="24.43" height="39.45" fill="#ff7553"/><rect x="537.93" width="20.67" height="39.45" fill="#ffcebd"/><rect x="541.69" width="16.91" height="39.45" fill="#f0e5ff"/><rect x="547.32" width="11.28" height="39.45" fill="#ffe3d9"/><rect x="549.20" width="9.40" height="39.45" fill="#ffb299"/><rect x="551.08" width="7.52" height="39.45" fill="#ffeae2"/><rect x="552.96" width="5.64" height="39.45" fill="#ff9c7f"/><rect x="554.84" width="3.76" height="39.45" fill="#fff8f5"/></g><g transform="translate(0,450.00)"><rect x="70.00" width="488.60" height="39.45" fill="#e9d8ff"/><rect x="71.88" width="486.72" height="39.45" fill="#d8bfff"/><rect x="75.64" width="482.96" height="39.45" fill="#f8f2ff"/><rect x="77.52" width="481.08" height="39.45" fill="#d6bbff"/><rect x="86.91" width="471.69" height="39.45" fill="#e9d8ff"/><rect x="88.79" width="469.81" height="39.45" fill="#dbc3ff"/><rect x="92.55" width="466.05" height="39.45" fill="#f8f2ff"/><rect x="96.31" width="462.29" height="39.45" fill="#e6d4ff"/><rect x="98.19" width="460.41" height="39.45" fill="#fdfbff"/><rect x="100.07" width="458.53" height="39.45" fill="#e9d8ff"/><rect x="107.58" width="451.02" height="39.45" fill="#ffffff"/><rect x="111.34" width="447.26" height="39.45" fill="#eee1ff"/><rect x="118.86" width="439.74" height="39.45" fill="#f8f2ff"/><rect x="120.74" width="437.86" height="39.45" fill="#f0e5ff"/><rect x="128.26" width="430.34" height="39.45" fill="#dbc3ff"/><rect x="132.01" width="426.59" height="39.45" fill="#faf6ff"/><rect x="135.77" width="422.83" height="39.45" fill="#e9d8ff"/><rect x="139.53" width="419.07" height="39.45" fill="#dbc3ff"/><rect x="141.41" width="417.19" height="39.45" fill="#f8f2ff"/><rect x="143.29" width="415.31" height="39.45" fill="#e6d4ff"/><rect x="147.05" width="411.55" height="39.45" fill="#f5eeff"/><rect x="148.93" width="409.67" height="39.45" fill="#e9d8ff"/><rect x="152.69" width="405.91" height="39.45" fill="#e6d4ff"/><rect x="158.32" width="400.28" height="39.45" fill="#f8f2ff"/><rect x="162.08" width="396.52" height="39.45" fill="#e9d8ff"/><rect x="167.72" width="390.88" height="39.45" fill="#ffffff"/><rect x="171.48" width="387.12" height="39.45" fill="#f0e5ff"/><rect x="175.24" width="383.36" height="39.45" fill="#ffeae2"/><rect x="177.12" width="381.48" height="39.45" fill="#ebddff"/><rect x="179.00" width="379.60" height="39.45" fill="#ffe7de"/><rect x="180.87" width="377.73" height="39.45" fill="#e6d4ff"/><rect x="182.75" width="375.85" height="39.45" fill="#ffffff"/><rect x="184.63" width="373.97" height="39.45" fill="#eee1ff"/><rect x="186.51" width="372.09" height="39.45" fill="#fffcfa"/><rect x="188.39" width="370.21" height="39.45" fill="#eee1ff"/><rect x="195.91" width="362.69" height="39.45" fill="#e3d0ff"/><rect x="197.79" width="360.81" height="39.45" fill="#dec7ff"/><rect x="205.30" width="353.30" height="39.45" fill="#ebddff"/><rect x="207.18" width="351.42" height="39.45" fill="#ffffff"/><rect x="210.94" width="347.66" height="39.45" fill="#e3d0ff"/><rect x="214.70" width="343.90" height="39.45" fill="#eee1ff"/><rect x="224.10" width="334.50" height="39.45" fill="#f8f2ff"/><rect x="225.98" width="332.62" height="39.45" fill="#ffeee7"/><rect x="227.86" width="330.74" height="39.45" fill="#fff8f5"/><rect x="231.61" width="326.99" height="39.45" fill="#f8f2ff"/><rect x="235.37" width="323.23" height="39.45" fill="#e6d4ff"/><rect x="241.01" width="317.59" height="39.45" fill="#ffffff"/><rect x="246.65" width="311.95" height="39.45" fill="#ebddff"/><rect x="250.41" width="308.19" height="39.45" fill="#f3e9ff"/><rect x="254.16" width="304.44" height="39.45" fill="#e9d8ff"/><rect x="257.92" width="300.68" height="39.45" fill="#ffe0d4"/><rect x="259.80" width="298.80" height="39.45" fill="#eee1ff"/><rect x="265.44" width="293.16" height="39.45" fill="#ffe7de"/><rect x="267.32" width="291.28" height="39.45" fill="#f8f2ff"/><rect x="269.20" width="289.40" height="39.45" fill="#fffcfa"/><rect x="271.08" width="287.52" height="39.45" fill="#ffe3d9"/><rect x="274.84" width="283.76" height="39.45" fill="#e6d4ff"/><rect x="276.72" width="281.88" height="39.45" fill="#ffe7de"/><rect x="278.59" width="280.01" height="39.45" fill="#f5eeff"/><rect x="284.23" width="274.37" height="39.45" fill="#e1ccff"/><rect x="291.75" width="266.85" height="39.45" fill="#fff1ec"/><rect x="295.51" width="263.09" height="39.45" fill="#f5eeff"/><rect x="304.90" width="253.70" height="39.45" fill="#ffe3d9"/><rect x="308.66" width="249.94" height="39.45" fill="#fffcfa"/><rect x="310.54" width="248.06" height="39.45" fill="#ebddff"/><rect x="312.42" width="246.18" height="39.45" fill="#ffeae2"/><rect x="314.30" width="244.30" height="39.45" fill="#f8f2ff"/><rect x="316.18" width="242.42" height="39.45" fill="#ffd5c7"/><rect x="318.06" width="240.54" height="39.45" fill="#f5eeff"/><rect x="321.82" width="236.78" height="39.45" fill="#fffcfa"/><rect x="325.58" width="233.02" height="39.45" fill="#ffe7de"/><rect x="327.45" width="231.15" height="39.45" fill="#ffcebd"/><rect x="331.21" width="227.39" height="39.45" fill="#f3e9ff"/><rect x="333.09" width="225.51" height="39.45" fill="#ffe7de"/><rect x="334.97" width="223.63" height="39.45" fill="#ffd9cb"/><rect x="338.73" width="219.87" height="39.45" fill="#e9d8ff"/><rect x="340.61" width="217.99" height="39.45" fill="#ffe3d9"/><rect x="342.49" width="216.11" height="39.45" fill="#eee1ff"/><rect x="348.13" width="210.47" height="39.45" fill="#fffcfa"/><rect x="353.76" width="204.84" height="39.45" fill="#ffd2c2"/><rect x="355.64" width="202.96" height="39.45" fill="#ffeee7"/><rect x="361.28" width="197.32" height="39.45" fill="#e6d4ff"/><rect x="363.16" width="195.44" height="39.45" fill="#fff1ec"/><rect x="366.92" width="191.68" height="39.45" fill="#e9d8ff"/><rect x="368.80" width="189.80" height="39.45" fill="#ffdcd0"/><rect x="370.68" width="187.92" height="39.45" fill="#fffcfa"/><rect x="378.19" width="180.41" height="39.45" fill="#ffeae2"/><rect x="380.07" width="178.53" height="39.45" fill="#ebddff"/><rect x="385.71" width="172.89" height="39.45" fill="#e6d4ff"/><rect x="387.59" width="171.01" height="39.45" fill="#ffeee7"/><rect x="389.47" width="169.13" height="39.45" fill="#fffcfa"/><rect x="395.11" width="163.49" height="39.45" fill="#ff9c7f"/><rect x="396.99" width="161.61" height="39.45" fill="#fff5f1"/><rect x="402.62" width="155.98" height="39.45" fill="#fffcfa"/><rect x="404.50" width="154.10" height="39.45" fill="#ffe3d9"/><rect x="406.38" width="152.22" height="39.45" fill="#f8f2ff"/><rect x="410.14" width="148.46" height="39.45" fill="#ffe7de"/><rect x="412.02" width="146.58" height="39.45" fill="#f5eeff"/><rect x="413.90" width="144.70" height="39.45" fill="#fff8f5"/><rect x="415.78" width="142.82" height="39.45" fill="#ffe0d4"/><rect x="419.54" width="139.06" height="39.45" fill="#fffcfa"/><rect x="421.42" width="137.18" height="39.45" fill="#ffe7de"/><rect x="423.30" width="135.30" height="39.45" fill="#f3e9ff"/><rect x="427.05" width="131.55" height="39.45" fill="#f5eeff"/><rect x="430.81" width="127.79" height="39.45" fill="#ffeae2"/><rect x="434.57" width="124.03" height="39.45" fill="#faf6ff"/><rect x="438.33" width="120.27" height="39.45" fill="#ffc4b0"/><rect x="442.09" width="116.51" height="39.45" fill="#fff8f5"/><rect x="443.97" width="114.63" height="39.45" fill="#ffbca7"/><rect x="445.85" width="112.75" height="39.45" fill="#ffe0d4"/><rect x="453.36" width="105.24" height="39.45" fill="#ffc7b4"/><rect x="455.24" width="103.36" height="39.45" fill="#f0e5ff"/><rect x="459.00" width="99.60" height="39.45" fill="#ffeee7"/><rect x="460.88" width="97.72" height="39.45" fill="#eee1ff"/><rect x="462.76" width="95.84" height="39.45" fill="#ffe7de"/><rect x="468.40" width="90.20" height="39.45" fill="#f0e5ff"/><rect x="470.28" width="88.32" height="39.45" fill="#ffe0d4"/><rect x="474.03" width="84.57" height="39.45" fill="#ffb9a2"/><rect x="475.91" width="82.69" height="39.45" fill="#ffe0d4"/><rect x="479.67" width="78.93" height="39.45" fill="#ffeae2"/><rect x="481.55" width="77.05" height="39.45" fill="#ffc7b4"/><rect x="483.43" width="75.17" height="39.45" fill="#fffcfa"/><rect x="485.31" width="73.29" height="39.45" fill="#ffb9a2"/><rect x="489.07" width="69.53" height="39.45" fill="#f5eeff"/><rect x="492.83" width="65.77" height="39.45" fill="#ffd2c2"/><rect x="494.71" width="63.89" height="39.45" fill="#ffeae2"/><rect x="498.46" width="60.14" height="39.45" fill="#f0e5ff"/><rect x="500.34" width="58.26" height="39.45" fill="#ffe7de"/><rect x="504.10" width="54.50" height="39.45" fill="#e9d8ff"/><rect x="505.98" width="52.62" height="39.45" fill="#ffcbb9"/><rect x="507.86" width="50.74" height="39.45" fill="#ffbca7"/><rect x="511.62" width="46.98" height="39.45" fill="#ffcbb9"/><rect x="515.38" width="43.22" height="39.45" fill="#fff5f1"/><rect x="517.26" width="41.34" height="39.45" fill="#ff987a"/><rect x="521.02" width="37.58" height="39.45" fill="#f3e9ff"/><rect x="522.89" width="35.71" height="39.45" fill="#ffdcd0"/><rect x="524.77" width="33.83" height="39.45" fill="#ffae95"/><rect x="526.65" width="31.95" height="39.45" fill="#ffe3d9"/><rect x="528.53" width="30.07" height="39.45" fill="#ffffff"/><rect x="532.29" width="26.31" height="39.45" fill="#fff5f1"/><rect x="537.93" width="20.67" height="39.45" fill="#ffe3d9"/><rect x="545.45" width="13.15" height="39.45" fill="#ff200d"/><rect x="547.32" width="11.28" height="39.45" fill="#ffb9a2"/><rect x="549.20" width="9.40" height="39.45" fill="#ffffff"/><rect x="551.08" width="7.52" height="39.45" fill="#ffa78c"/><rect x="552.96" width="5.64" height="39.45" fill="#fff8f5"/><rect x="554.84" width="3.76" height="39.45" fill="#ff9f83"/><rect x="556.72" width="1.88" height="39.45" fill="#ffdcd0"/></g><g transform="translate(0,489.30)"><rect x="70.00" width="488.60" height="39.45" fill="#bb95ff"/><rect x="77.52" width="481.08" height="39.45" fill="#aa80ff"/><rect x="79.40" width="479.20" height="39.45" fill="#e9d8ff"/><rect x="85.03" width="473.57" height="39.45" fill="#d6bbff"/><rect x="92.55" width="466.05" height="39.45" fill="#c4a2ff"/><rect x="94.43" width="464.17" height="39.45" fill="#e9d8ff"/><rect x="98.19" width="460.41" height="39.45" fill="#caaaff"/><rect x="101.95" width="456.65" height="39.45" fill="#fff5f1"/><rect x="103.83" width="454.77" height="39.45" fill="#caaaff"/><rect x="109.46" width="449.14" height="39.45" fill="#ffffff"/><rect x="111.34" width="447.26" height="39.45" fill="#e6d4ff"/><rect x="115.10" width="443.50" height="39.45" fill="#b189ff"/><rect x="116.98" width="441.62" height="39.45" fill="#f8f2ff"/><rect x="118.86" width="439.74" height="39.45" fill="#be99ff"/><rect x="122.62" width="435.98" height="39.45" fill="#e1ccff"/><rect x="132.01" width="426.59" height="39.45" fill="#ffeae2"/><rect x="133.89" width="424.71" height="39.45" fill="#e6d4ff"/><rect x="135.77" width="422.83" height="39.45" fill="#fffcfa"/><rect x="137.65" width="420.95" height="39.45" fill="#e9d8ff"/><rect x="139.53" width="419.07" height="39.45" fill="#ffffff"/><rect x="141.41" width="417.19" height="39.45" fill="#eee1ff"/><rect x="143.29" width="415.31" height="39.45" fill="#fff8f5"/><rect x="147.05" width="411.55" height="39.45" fill="#f8f2ff"/><rect x="148.93" width="409.67" height="39.45" fill="#ffeae2"/><rect x="150.81" width="407.79" height="39.45" fill="#f8f2ff"/><rect x="154.57" width="404.03" height="39.45" fill="#fff1ec"/><rect x="158.32" width="400.28" height="39.45" fill="#caaaff"/><rect x="160.20" width="398.40" height="39.45" fill="#ffffff"/><rect x="162.08" width="396.52" height="39.45" fill="#fff1ec"/><rect x="165.84" width="392.76" height="39.45" fill="#ebddff"/><rect x="171.48" width="387.12" height="39.45" fill="#fff5f1"/><rect x="173.36" width="385.24" height="39.45" fill="#d0b2ff"/><rect x="177.12" width="381.48" height="39.45" fill="#f8f2ff"/><rect x="179.00" width="379.60" height="39.45" fill="#e1ccff"/><rect x="180.87" width="377.73" height="39.45" fill="#f5eeff"/><rect x="184.63" width="373.97" height="39.45" fill="#fff8f5"/><rect x="190.27" width="368.33" height="39.45" fill="#e6d4ff"/><rect x="192.15" width="366.45" height="39.45" fill="#fdfbff"/><rect x="199.67" width="358.93" height="39.45" fill="#ffdcd0"/><rect x="203.43" width="355.17" height="39.45" fill="#ffffff"/><rect x="205.30" width="353.30" height="39.45" fill="#ffdcd0"/><rect x="207.18" width="351.42" height="39.45" fill="#fffcfa"/><rect x="210.94" width="347.66" height="39.45" fill="#ffd5c7"/><rect x="214.70" width="343.90" height="39.45" fill="#f5eeff"/><rect x="216.58" width="342.02" height="39.45" fill="#ffeae2"/><rect x="220.34" width="338.26" height="39.45" fill="#f8f2ff"/><rect x="224.10" width="334.50" height="39.45" fill="#fff5f1"/><rect x="227.86" width="330.74" height="39.45" fill="#fdfbff"/><rect x="231.61" width="326.99" height="39.45" fill="#ebddff"/><rect x="233.49" width="325.11" height="39.45" fill="#f3e9ff"/><rect x="235.37" width="323.23" height="39.45" fill="#ffdcd0"/><rect x="237.25" width="321.35" height="39.45" fill="#f8f2ff"/><rect x="241.01" width="317.59" height="39.45" fill="#e9d8ff"/><rect x="242.89" width="315.71" height="39.45" fill="#ffe3d9"/><rect x="246.65" width="311.95" height="39.45" fill="#fff5f1"/><rect x="248.53" width="310.07" height="39.45" fill="#ffe3d9"/><rect x="254.16" width="304.44" height="39.45" fill="#ffd2c2"/><rect x="256.04" width="302.56" height="39.45" fill="#ffffff"/><rect x="261.68" width="296.92" height="39.45" fill="#ffe3d9"/><rect x="265.44" width="293.16" height="39.45" fill="#ebddff"/><rect x="267.32" width="291.28" height="39.45" fill="#ffe7de"/><rect x="269.20" width="289.40" height="39.45" fill="#f8f2ff"/><rect x="271.08" width="287.52" height="39.45" fill="#ffffff"/><rect x="272.96" width="285.64" height="39.45" fill="#eee1ff"/><rect x="274.84" width="283.76" height="39.45" fill="#ffe0d4"/><rect x="280.47" width="278.13" height="39.45" fill="#ffffff"/><rect x="284.23" width="274.37" height="39.45" fill="#ffd9cb"/><rect x="289.87" width="268.73" height="39.45" fill="#e9d8ff"/><rect x="291.75" width="266.85" height="39.45" fill="#caaaff"/><rect x="293.63" width="264.97" height="39.45" fill="#ffe0d4"/><rect x="303.02" width="255.58" height="39.45" fill="#ffd5c7"/><rect x="304.90" width="253.70" height="39.45" fill="#fffcfa"/><rect x="308.66" width="249.94" height="39.45" fill="#ffe0d4"/><rect x="314.30" width="244.30" height="39.45" fill="#fff5f1"/><rect x="318.06" width="240.54" height="39.45" fill="#ffe0d4"/><rect x="323.70" width="234.90" height="39.45" fill="#fff8f5"/><rect x="327.45" width="231.15" height="39.45" fill="#d8bfff"/><rect x="329.33" width="229.27" height="39.45" fill="#faf6ff"/><rect x="331.21" width="227.39" height="39.45" fill="#ffd9cb"/><rect x="336.85" width="221.75" height="39.45" fill="#e6d4ff"/><rect x="338.73" width="219.87" height="39.45" fill="#fffcfa"/><rect x="340.61" width="217.99" height="39.45" fill="#ffd9cb"/><rect x="344.37" width="214.23" height="39.45" fill="#fff8f5"/><rect x="346.25" width="212.35" height="39.45" fill="#ffd5c7"/><rect x="351.88" width="206.72" height="39.45" fill="#d8bfff"/><rect x="355.64" width="202.96" height="39.45" fill="#fdfbff"/><rect x="359.40" width="199.20" height="39.45" fill="#ffd9cb"/><rect x="363.16" width="195.44" height="39.45" fill="#fffcfa"/><rect x="365.04" width="193.56" height="39.45" fill="#ffe3d9"/><rect x="368.80" width="189.80" height="39.45" fill="#dbc3ff"/><rect x="370.68" width="187.92" height="39.45" fill="#ffe3d9"/><rect x="374.44" width="184.16" height="39.45" fill="#ffd9cb"/><rect x="378.19" width="180.41" height="39.45" fill="#fdfbff"/><rect x="383.83" width="174.77" height="39.45" fill="#ffeae2"/><rect x="385.71" width="172.89" height="39.45" fill="#ffe0d4"/><rect x="393.23" width="165.37" height="39.45" fill="#cdaeff"/><rect x="396.99" width="161.61" height="39.45" fill="#ebddff"/><rect x="398.87" width="159.73" height="39.45" fill="#ffe7de"/><rect x="400.74" width="157.86" height="39.45" fill="#fffcfa"/><rect x="402.62" width="155.98" height="39.45" fill="#ffdcd0"/><rect x="406.38" width="152.22" height="39.45" fill="#ffffff"/><rect x="408.26" width="150.34" height="39.45" fill="#e9d8ff"/><rect x="412.02" width="146.58" height="39.45" fill="#fff5f1"/><rect x="415.78" width="142.82" height="39.45" fill="#ffd2c2"/><rect x="421.42" width="137.18" height="39.45" fill="#e1ccff"/><rect x="423.30" width="135.30" height="39.45" fill="#caaaff"/><rect x="427.05" width="131.55" height="39.45" fill="#ffffff"/><rect x="428.93" width="129.67" height="39.45" fill="#ffe7de"/><rect x="432.69" width="125.91" height="39.45" fill="#fff5f1"/><rect x="436.45" width="122.15" height="39.45" fill="#ffe0d4"/><rect x="440.21" width="118.39" height="39.45" fill="#fffcfa"/><rect x="442.09" width="116.51" height="39.45" fill="#ffdcd0"/><rect x="443.97" width="114.63" height="39.45" fill="#f0e5ff"/><rect x="445.85" width="112.75" height="39.45" fill="#ffd9cb"/><rect x="453.36" width="105.24" height="39.45" fill="#eee1ff"/><rect x="455.24" width="103.36" height="39.45" fill="#ffe7de"/><rect x="457.12" width="101.48" height="39.45" fill="#fdfbff"/><rect x="459.00" width="99.60" height="39.45" fill="#e3d0ff"/><rect x="460.88" width="97.72" height="39.45" fill="#ffd5c7"/><rect x="466.52" width="92.08" height="39.45" fill="#ffe7de"/><rect x="470.28" width="88.32" height="39.45" fill="#e1ccff"/><rect x="472.16" width="86.44" height="39.45" fill="#ffe7de"/><rect x="474.03" width="84.57" height="39.45" fill="#f0e5ff"/><rect x="475.91" width="82.69" height="39.45" fill="#ffd9cb"/><rect x="483.43" width="75.17" height="39.45" fill="#fff5f1"/><rect x="487.19" width="71.41" height="39.45" fill="#e6d4ff"/><rect x="489.07" width="69.53" height="39.45" fill="#ffe0d4"/><rect x="492.83" width="65.77" height="39.45" fill="#f8f2ff"/><rect x="494.71" width="63.89" height="39.45" fill="#ffe3d9"/><rect x="498.46" width="60.14" height="39.45" fill="#e6d4ff"/><rect x="502.22" width="56.38" height="39.45" fill="#fff5f1"/><rect x="505.98" width="52.62" height="39.45" fill="#ffd5c7"/><rect x="509.74" width="48.86" height="39.45" fill="#f3e9ff"/><rect x="511.62" width="46.98" height="39.45" fill="#ffd2c2"/><rect x="515.38" width="43.22" height="39.45" fill="#ffe7de"/><rect x="521.02" width="37.58" height="39.45" fill="#fffcfa"/><rect x="522.89" width="35.71" height="39.45" fill="#ffe3d9"/><rect x="530.41" width="28.19" height="39.45" fill="#f8f2ff"/><rect x="532.29" width="26.31" height="39.45" fill="#ffd5c7"/><rect x="545.45" width="13.15" height="39.45" fill="#f3e9ff"/><rect x="547.32" width="11.28" height="39.45" fill="#ffeae2"/><rect x="549.20" width="9.40" height="39.45" fill="#f8f2ff"/><rect x="551.08" width="7.52" height="39.45" fill="#ffeae2"/><rect x="552.96" width="5.64" height="39.45" fill="#f8f2ff"/><rect x="554.84" width="3.76" height="39.45" fill="#ffe3d9"/></g></g></g>
</g>
<text x="0.9" y="17.2" font-size="23.5" font-weight="bold" fill="#000">A</text>
<text x="-0.2" y="172.2" font-size="23.5" font-weight="bold" fill="#000">B</text>
<text x="0.0" y="326.7" font-size="23.5" font-weight="bold" fill="#000">C</text>
<g id="leg">
<text x="586.0" y="54.8" font-size="17" fill="#000">Risk Group</text>
<rect x="586" y="64.9" width="22.1" height="44.8" fill="#f2f2f2"/>
<circle cx="597" cy="75.9" r="3.2" fill="#ff0000"/>
<circle cx="597" cy="98.6" r="3.2" fill="#0000ff"/>
<text x="616.4" y="83.3" font-size="15.4" fill="#000">High</text>
<text x="616.4" y="105.8" font-size="15.4" fill="#000">Low</text>
<text x="586.0" y="209.0" font-size="17" fill="#000">Status</text>
<rect x="586" y="219.5" width="22.1" height="44.8" fill="#f2f2f2"/>
<circle cx="597" cy="230.5" r="3.2" fill="#0000ff"/>
<circle cx="597" cy="253.2" r="3.2" fill="#ff0000"/>
<text x="616.4" y="237.4" font-size="15.4" fill="#000">Alive</text>
<text x="616.4" y="260.2" font-size="15.4" fill="#000">Dead</text>
<text x="586.0" y="301" font-size="17" fill="#000">Risk Group</text>
<rect x="586.2" y="310.6" width="22" height="22.1" fill="#ff0000"/>
<rect x="586.2" y="332.7" width="22" height="20.6" fill="#0000ff"/>
<text x="616.4" y="328.5" font-size="15.4" fill="#000">High</text>
<text x="616.4" y="351.2" font-size="15.4" fill="#000">Low</text>
<text x="586.0" y="375.8" font-size="17" fill="#000">Expression</text>
<defs><linearGradient id="eg" x1="0" y1="1" x2="0" y2="0"><stop offset="0.0000" stop-color="#ad85ff"/><stop offset="0.0312" stop-color="#b68fff"/><stop offset="0.0625" stop-color="#bf9aff"/><stop offset="0.0938" stop-color="#c7a5ff"/><stop offset="0.1250" stop-color="#ceb0ff"/><stop offset="0.1562" stop-color="#d6bbff"/><stop offset="0.1875" stop-color="#ddc6ff"/><stop offset="0.2188" stop-color="#e4d2ff"/><stop offset="0.2500" stop-color="#ebddff"/><stop offset="0.2812" stop-color="#f2e8ff"/><stop offset="0.3125" stop-color="#f8f3ff"/><stop offset="0.3438" stop-color="#fffeff"/><stop offset="0.3750" stop-color="#fff6f3"/><stop offset="0.4062" stop-color="#ffede7"/><stop offset="0.4375" stop-color="#ffe4da"/><stop offset="0.4688" stop-color="#ffdbce"/><stop offset="0.5000" stop-color="#ffd2c2"/><stop offset="0.5312" stop-color="#ffc8b6"/><stop offset="0.5625" stop-color="#ffbfaa"/><stop offset="0.5938" stop-color="#ffb69e"/><stop offset="0.6250" stop-color="#ffac92"/><stop offset="0.6562" stop-color="#ffa387"/><stop offset="0.6875" stop-color="#ff997b"/><stop offset="0.7188" stop-color="#ff8f70"/><stop offset="0.7500" stop-color="#ff8565"/><stop offset="0.7812" stop-color="#ff7a59"/><stop offset="0.8125" stop-color="#ff6f4e"/><stop offset="0.8438" stop-color="#ff6443"/><stop offset="0.8750" stop-color="#ff5837"/><stop offset="0.9062" stop-color="#ff4a2c"/><stop offset="0.9375" stop-color="#ff3b1f"/><stop offset="0.9688" stop-color="#ff2611"/><stop offset="1.0000" stop-color="#ff0000"/></linearGradient></defs>
<rect x="586.0" y="385.8" width="23" height="113.2" fill="url(#eg)"/>
<text x="616.4" y="397.8" font-size="15.4" fill="#000">5.0</text>
<path d="M586.0 392.5h4.5M609.0 392.5h-4.5" stroke="#fff" stroke-width="0.8"/>
<text x="616.4" y="431.8" font-size="15.4" fill="#000">2.5</text>
<path d="M586.0 426.5h4.5M609.0 426.5h-4.5" stroke="#fff" stroke-width="0.8"/>
<text x="616.4" y="465.3" font-size="15.4" fill="#000">0.0</text>
<path d="M586.0 460h4.5M609.0 460h-4.5" stroke="#fff" stroke-width="0.8"/>
<text x="616.4" y="498.8" font-size="15.4" fill="#000">-2.5</text>
<path d="M586.0 493.5h4.5M609.0 493.5h-4.5" stroke="#fff" stroke-width="0.8"/>
</g>
</svg>
</body></html>
